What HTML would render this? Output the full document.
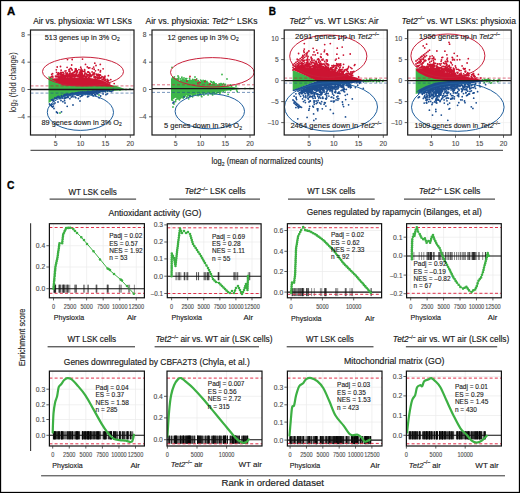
<!DOCTYPE html><html><head><meta charset="utf-8"><style>html,body{margin:0;padding:0;background:#fff;width:520px;height:493px;overflow:hidden}svg{display:block}</style></head><body><svg width="520" height="493" viewBox="0 0 520 493" font-family='"Liberation Sans", sans-serif'>
<rect width="520" height="493" fill="#fff"/>
<clipPath id="c30"><rect x="30.5" y="30" width="103.5" height="105"/></clipPath>
<line x1="55.60" y1="30.00" x2="55.60" y2="135.00" stroke="#ececec" stroke-width="0.6" />
<line x1="80.50" y1="30.00" x2="80.50" y2="135.00" stroke="#ececec" stroke-width="0.6" />
<line x1="105.40" y1="30.00" x2="105.40" y2="135.00" stroke="#ececec" stroke-width="0.6" />
<line x1="130.30" y1="30.00" x2="130.30" y2="135.00" stroke="#ececec" stroke-width="0.6" />
<line x1="30.50" y1="34.86" x2="134.00" y2="34.86" stroke="#ececec" stroke-width="0.6" />
<line x1="30.50" y1="62.18" x2="134.00" y2="62.18" stroke="#ececec" stroke-width="0.6" />
<line x1="30.50" y1="89.50" x2="134.00" y2="89.50" stroke="#ececec" stroke-width="0.6" />
<line x1="30.50" y1="116.82" x2="134.00" y2="116.82" stroke="#ececec" stroke-width="0.6" />
<g clip-path="url(#c30)">
<polygon points="48.5,76.0 63.0,84.5 115.0,85.5 125.0,89.0 125.0,90.0 115.0,90.8 100.0,92.2 80.0,93.8 65.0,96.0 55.0,99.0 48.5,103.0" fill="#3db54a"/>
<polygon points="52.0,78.5 60.0,78.0 75.0,77.5 90.0,78.0 100.0,79.5 107.0,82.5 113.0,86.0 116.0,86.8 63.0,85.5 52.0,79.5" fill="#cc1432"/>
<path d="M73.6 76.6h0M85.6 77.2h0M81.0 76.0h0M60.0 75.7h0M58.0 76.1h0M60.9 77.2h0M77.0 72.5h0M64.6 76.7h0M84.6 69.6h0M82.6 75.9h0M108.1 82.5h0M96.7 77.6h0M65.7 77.0h0M73.0 72.7h0M67.6 75.0h0M85.1 76.1h0M81.4 77.0h0M60.1 76.9h0M87.0 75.9h0M73.2 74.8h0M78.0 76.2h0M92.7 74.8h0M70.5 74.9h0M80.6 71.8h0M89.3 76.6h0M108.8 82.7h0M76.8 73.4h0M66.1 75.5h0M58.2 74.7h0M91.1 75.4h0M97.9 77.7h0M87.6 75.1h0M82.7 75.7h0M95.4 70.8h0M78.7 74.3h0M60.2 74.3h0M85.5 64.4h0M94.3 77.3h0M75.7 74.2h0M56.2 76.1h0M67.0 76.9h0M60.1 73.7h0M64.9 76.6h0M75.9 71.7h0M61.8 75.9h0M81.5 71.6h0M94.2 72.9h0M71.9 75.7h0M74.8 71.4h0M105.4 80.9h0M67.4 76.6h0M70.0 75.4h0M83.1 76.5h0M52.7 76.5h0M75.2 74.8h0M104.9 78.0h0M80.2 74.7h0M86.8 77.2h0M99.7 75.0h0M97.8 74.5h0M75.9 75.7h0M63.3 74.8h0M60.3 77.3h0M68.9 76.7h0M74.2 76.9h0M50.6 77.5h0M63.2 76.2h0M56.6 72.3h0M84.1 76.9h0M70.8 76.0h0M75.0 76.7h0M96.0 65.5h0M78.5 75.4h0M62.1 77.1h0M74.2 76.2h0M94.7 77.8h0M56.3 69.8h0M80.7 76.8h0M81.3 77.1h0M80.7 67.2h0M97.0 75.5h0M71.2 75.9h0M66.9 73.4h0M80.9 73.3h0M73.8 76.4h0M93.7 67.1h0M96.3 74.2h0M94.1 74.6h0M69.7 75.3h0M74.7 76.9h0M56.9 76.8h0M71.1 74.1h0M105.3 79.7h0M103.1 68.8h0M105.1 80.0h0M69.5 76.5h0M68.4 76.6h0M84.5 71.3h0M95.5 76.6h0M85.7 73.2h0M62.1 74.6h0M100.6 75.3h0M90.3 75.9h0M67.5 73.2h0M73.9 72.8h0M107.3 80.9h0M76.2 69.4h0M89.0 77.0h0M64.8 76.9h0M100.2 74.8h0M65.8 72.8h0M108.8 80.3h0M74.5 74.9h0M65.0 77.3h0M107.2 79.4h0M80.6 70.1h0M77.3 71.7h0M94.6 77.6h0M70.8 76.2h0M70.3 74.9h0M71.1 75.7h0M65.0 71.1h0M74.6 75.4h0M82.8 71.2h0M76.9 70.6h0M79.7 75.2h0M80.5 77.1h0M77.6 76.6h0M52.6 73.7h0M67.2 75.6h0M89.1 75.4h0M73.7 75.1h0M81.7 73.2h0M63.5 75.2h0M70.6 76.3h0M91.5 75.9h0M82.0 73.5h0M100.8 77.8h0M84.0 75.5h0M80.1 74.1h0M78.0 75.1h0M78.9 69.7h0M87.8 72.0h0M103.6 79.8h0M81.9 69.8h0M95.4 77.9h0M64.4 75.8h0M61.2 76.7h0M61.2 74.6h0M92.1 71.9h0M66.3 74.0h0M86.1 77.0h0M98.4 69.8h0M69.4 69.3h0M76.1 75.3h0M110.8 79.6h0M66.6 75.8h0M80.2 76.1h0M68.3 76.2h0M88.9 77.4h0M81.7 75.7h0M55.6 76.7h0M84.5 75.4h0M60.5 66.5h0M92.4 68.6h0M63.4 76.6h0M58.2 73.7h0M71.5 76.8h0M76.9 70.8h0M94.1 77.3h0M66.0 70.8h0M82.3 74.1h0M62.4 77.3h0M87.3 76.0h0M61.1 70.2h0M84.9 73.1h0M62.0 72.4h0M60.7 72.3h0M78.0 76.0h0M81.7 70.4h0M71.4 76.8h0M80.7 76.5h0M63.7 76.9h0M59.3 76.9h0M73.1 76.1h0M90.8 76.7h0M79.7 76.6h0M74.4 77.0h0M70.7 77.1h0M89.5 75.4h0M68.0 75.6h0M102.9 79.9h0M94.1 76.6h0M79.5 72.5h0M76.0 75.2h0M87.3 66.9h0M74.3 72.4h0M88.2 74.8h0M76.4 75.9h0M59.7 77.2h0M61.0 74.0h0M70.9 76.7h0M62.0 72.6h0M97.5 75.7h0M72.0 76.4h0M72.4 75.5h0M66.4 75.8h0M71.3 68.6h0M107.5 80.2h0M70.5 68.4h0M73.0 75.9h0M51.4 76.7h0M78.8 75.3h0M68.6 75.4h0M52.9 77.1h0M62.4 76.1h0M58.5 77.5h0M72.8 76.4h0M82.9 75.3h0M90.3 74.8h0M88.6 72.0h0M75.9 76.0h0M109.7 83.1h0M89.0 74.8h0M58.7 72.9h0M99.1 76.3h0M89.5 73.1h0M65.5 75.4h0M79.8 72.5h0M93.3 73.4h0M82.9 71.5h0M87.1 74.3h0M69.9 77.1h0M65.1 76.2h0M63.4 72.7h0M81.9 74.7h0M84.6 74.4h0M79.3 77.1h0M92.9 74.3h0M79.8 75.2h0M86.0 77.2h0M89.6 76.7h0M61.3 76.7h0M89.3 76.9h0M89.8 67.8h0M79.4 75.9h0M78.9 74.1h0M91.2 75.2h0M85.3 77.1h0M65.9 76.5h0M90.0 76.6h0M82.2 77.2h0M60.2 76.7h0M86.6 74.3h0M86.7 76.5h0M80.3 75.6h0M78.5 76.8h0M99.2 78.3h0M108.4 75.7h0M55.5 76.1h0M94.2 69.2h0M77.9 76.3h0M69.0 69.6h0M69.0 74.9h0M65.6 75.4h0M104.8 80.7h0M94.2 76.3h0M98.7 75.6h0M69.9 71.2h0M79.2 77.1h0M52.5 76.1h0M77.9 76.2h0M65.5 76.2h0M73.3 72.3h0M51.7 74.3h0M95.4 78.0h0M102.1 76.6h0M99.9 78.1h0M75.3 75.7h0M114.2 83.6h0M74.9 75.6h0M71.7 77.0h0M63.2 72.7h0M72.1 70.0h0M70.7 76.3h0M80.1 76.6h0M75.3 68.9h0M98.5 74.4h0M84.8 71.0h0M103.5 78.4h0M88.8 77.3h0M89.4 75.9h0M90.4 74.9h0M72.2 77.0h0M102.1 79.5h0M78.7 76.0h0M72.6 73.6h0M108.1 81.9h0M85.9 76.4h0M81.8 75.9h0M66.9 76.8h0M68.9 71.1h0M79.6 76.5h0M100.3 64.4h0M77.9 76.7h0M68.2 77.0h0M74.2 76.8h0M70.3 76.4h0M82.3 71.6h0M90.3 76.2h0M76.7 75.1h0M75.4 75.9h0M60.3 76.6h0M106.8 81.5h0M79.8 74.6h0M97.0 77.9h0M71.6 76.4h0M76.2 75.5h0M105.0 76.2h0M97.7 78.6h0M57.4 74.4h0M99.4 77.2h0M83.0 77.3h0M75.9 70.2h0M94.5 73.2h0M107.4 81.5h0M63.7 76.9h0M80.5 74.2h0M103.6 77.2h0M85.5 73.6h0" stroke="#cc1432" stroke-width="1.8" stroke-linecap="round" fill="none"/>
<path d="M74.8 71.4h0M57.2 67.0h0M67.5 59.6h0M81.6 74.7h0M63.0 75.4h0M81.2 68.8h0M62.2 76.9h0M77.1 70.9h0M72.6 75.3h0M79.8 77.1h0M70.0 72.8h0M100.3 71.9h0M93.7 73.5h0M67.6 75.3h0M100.5 70.7h0M70.1 77.0h0M76.2 69.2h0M73.6 75.0h0M82.5 59.1h0M67.3 77.0h0M71.1 73.3h0M83.1 75.7h0M88.5 68.0h0M76.4 75.4h0M101.7 77.1h0M89.7 75.7h0M67.1 67.3h0M76.1 75.6h0M67.2 73.5h0M63.9 73.9h0M63.7 77.0h0M58.9 74.1h0M94.8 63.2h0M97.5 75.8h0M85.9 77.1h0M82.3 73.9h0M72.2 74.3h0M64.9 77.3h0M69.2 74.2h0M99.9 78.1h0M101.0 77.8h0M71.7 65.0h0M89.9 73.5h0M58.1 73.1h0M72.2 59.5h0" stroke="#cc1432" stroke-width="1.8" stroke-linecap="round" fill="none"/>
<path d="M69.8 94.3h0M101.7 90.5h0M78.9 94.4h0M93.4 91.2h0M58.4 96.5h0M103.6 90.6h0M92.4 94.1h0M76.3 93.1h0M107.5 91.1h0M73.1 94.8h0M75.4 93.3h0M52.8 100.5h0M103.3 91.5h0M105.9 90.1h0M71.8 94.2h0M107.4 93.8h0M78.1 92.8h0M79.6 93.1h0M104.4 90.4h0M95.4 92.6h0M96.6 92.7h0M86.1 92.2h0M75.5 93.4h0M94.3 91.2h0M70.1 95.4h0M72.5 93.4h0M58.3 97.4h0M75.8 97.7h0M100.6 96.0h0M73.2 93.3h0M64.0 95.6h0M90.6 92.1h0M71.9 94.1h0M86.7 93.1h0M92.5 93.5h0M88.6 91.7h0M97.7 91.2h0M84.5 92.4h0M92.0 91.5h0M72.5 93.7h0M67.7 96.7h0M85.0 92.3h0M78.4 98.5h0M82.3 92.3h0M95.8 92.3h0M113.2 89.5h0M81.2 94.2h0M97.7 93.9h0M59.1 96.6h0M65.6 94.6h0M109.6 90.8h0M104.6 90.8h0M99.4 91.4h0M73.0 95.1h0M106.2 90.2h0M85.7 93.0h0M71.1 94.1h0M67.0 94.4h0M72.8 94.4h0M88.0 91.8h0M54.8 98.0h0M89.2 91.7h0M75.2 93.2h0M95.0 92.0h0M61.4 95.6h0M78.4 93.4h0M87.5 91.7h0M68.3 95.4h0M78.9 92.8h0M75.0 96.8h0M75.2 93.9h0M77.0 93.3h0M99.3 97.8h0M77.2 92.9h0M91.5 91.6h0M53.5 101.2h0M79.4 94.4h0M78.8 95.1h0M80.7 92.4h0M55.5 98.3h0M87.5 94.6h0M63.5 96.1h0M77.5 93.4h0M67.3 94.5h0M82.8 95.2h0M64.9 95.3h0M95.5 95.2h0M70.1 93.8h0M105.9 94.7h0M81.4 92.2h0M104.2 90.8h0M102.3 91.6h0M96.7 91.1h0M94.5 91.4h0M78.7 94.7h0M97.0 91.1h0M71.1 94.1h0M82.7 92.6h0M65.8 94.6h0M91.3 94.1h0M59.2 97.2h0M93.0 91.2h0M97.6 91.0h0M85.8 92.7h0M87.0 92.1h0M79.3 93.4h0M79.5 93.6h0M80.2 92.9h0M56.9 98.0h0M81.7 92.4h0M93.3 93.0h0M80.6 92.4h0M81.1 92.3h0M66.2 94.9h0M63.7 95.5h0M82.4 92.1h0M87.3 91.7h0M91.8 93.1h0M82.5 92.1h0M82.2 92.6h0M106.7 90.2h0M98.8 97.6h0M91.7 93.4h0M69.9 98.7h0M81.8 96.0h0M103.3 90.5h0M94.6 94.4h0M61.6 96.0h0M92.9 91.4h0M101.6 90.8h0M96.2 91.1h0M82.1 95.2h0M70.6 94.0h0M82.3 92.5h0M58.7 96.6h0M68.1 97.4h0M89.2 94.3h0M68.6 95.8h0M65.3 95.3h0M87.3 92.2h0M99.9 91.6h0M85.1 94.5h0M64.6 100.7h0M87.1 92.3h0M95.1 91.4h0M113.0 90.5h0M77.1 94.4h0M80.0 92.4h0M92.3 91.3h0M96.4 91.3h0M87.5 96.8h0M85.3 93.1h0M75.3 92.9h0M58.3 96.6h0M86.5 92.4h0M82.5 94.8h0M66.4 94.5h0M88.1 91.6h0M52.3 99.6h0M64.7 95.0h0M71.4 94.6h0M85.4 92.1h0M86.8 92.5h0M66.6 97.6h0M72.3 93.5h0M64.0 96.0h0M99.8 92.5h0M78.6 92.8h0M54.8 98.8h0M84.4 92.4h0M87.7 92.3h0M105.3 91.8h0M72.5 96.2h0M59.5 97.0h0M78.8 92.7h0M60.9 97.5h0M55.0 98.4h0M105.6 90.3h0M70.2 94.8h0M82.3 93.3h0M96.0 91.2h0M75.1 93.4h0M59.9 98.7h0M94.3 92.6h0M53.6 100.6h0M92.3 92.0h0M92.2 92.0h0M71.5 93.6h0M71.8 93.5h0M76.2 94.5h0M89.9 93.7h0M90.7 91.7h0M84.0 92.6h0M94.6 92.0h0M73.3 94.5h0M108.5 90.1h0M100.4 90.6h0M73.0 93.6h0M92.3 94.8h0M92.4 91.7h0M100.4 91.1h0M72.1 96.3h0M87.1 93.1h0M88.6 96.3h0M81.0 94.4h0M90.0 93.8h0M79.9 93.8h0M84.7 92.3h0M70.8 94.8h0M62.6 98.1h0M67.2 94.1h0M64.8 97.8h0M76.5 92.9h0M57.7 96.7h0M89.8 92.7h0M90.0 93.1h0M61.6 96.5h0M77.2 94.7h0M96.4 93.7h0M61.6 97.9h0M103.1 93.9h0M64.8 94.8h0M65.1 94.4h0M98.2 92.8h0M87.3 93.8h0M87.1 92.1h0M64.3 94.7h0M93.0 91.4h0M75.5 93.5h0M56.5 97.3h0M74.0 94.7h0M77.4 93.1h0M108.4 90.7h0M98.4 91.9h0M57.9 97.2h0M79.8 94.1h0M76.6 94.2h0M83.4 92.2h0M99.1 90.8h0M96.4 91.1h0M51.6 99.8h0M93.2 95.9h0M53.0 99.5h0M81.8 94.1h0M69.4 94.6h0M76.6 94.9h0M73.1 96.8h0M74.1 93.4h0M90.1 92.3h0M65.0 95.7h0M62.8 97.0h0M90.0 93.3h0M87.0 92.2h0M78.6 93.0h0M101.2 90.6h0M101.0 90.5h0M70.5 94.0h0M102.0 91.3h0M77.8 95.2h0M71.8 94.2h0M83.2 93.7h0M92.7 92.5h0M76.7 93.2h0M67.8 96.3h0M88.5 93.2h0M68.6 94.6h0M93.8 92.2h0M66.0 95.0h0M100.8 90.9h0M69.8 94.1h0M90.3 93.7h0M67.8 94.2h0M72.5 93.8h0M82.9 92.2h0M75.9 93.1h0M110.0 91.3h0M64.4 98.7h0M64.4 95.2h0M111.5 91.5h0M91.7 92.0h0M70.0 94.9h0M64.8 94.8h0M78.1 92.5h0M78.5 94.4h0M89.9 92.3h0M87.2 92.4h0M67.0 95.3h0M78.7 94.1h0M102.6 91.1h0M84.8 93.5h0M79.3 92.6h0M91.2 94.0h0M93.8 92.6h0M98.5 92.1h0M87.6 92.4h0M75.3 94.1h0M64.1 95.3h0M94.3 92.6h0M87.1 92.0h0M79.4 93.0h0" stroke="#1d4f91" stroke-width="1.8" stroke-linecap="round" fill="none"/>
<path d="M65.4 98.0h0M67.2 106.3h0M53.9 103.9h0M71.2 97.1h0M61.5 111.8h0M50.5 104.9h0M53.4 106.1h0M80.3 96.7h0M52.1 104.2h0M62.9 101.7h0" stroke="#1d4f91" stroke-width="1.8" stroke-linecap="round" fill="none"/>
<path d="M49.5 104.0h0M50.5 105.0h0M51.5 106.0h0M52.5 107.0h0M54.0 108.5h0M57.5 113.0h0M56.5 112.0h0M65.0 103.0h0M73.0 105.0h0M80.0 101.0h0M55.0 103.0h0M58.0 102.0h0M61.0 100.5h0" stroke="#1d4f91" stroke-width="1.8" stroke-linecap="round" fill="none"/>
<path d="M60.0 113.0h0M99.0 95.0h0M120.0 90.0h0M126.0 89.5h0M130.0 89.0h0" stroke="#3db54a" stroke-width="1.8" stroke-linecap="round" fill="none"/>
<line x1="30.50" y1="85.90" x2="134.00" y2="85.90" stroke="#cc1432" stroke-width="1" stroke-dasharray="3,2" stroke-opacity="0.6"/>
<line x1="30.50" y1="93.10" x2="134.00" y2="93.10" stroke="#1d4f91" stroke-width="1" stroke-dasharray="3,2" stroke-opacity="0.6"/>
<line x1="30.50" y1="89.50" x2="134.00" y2="89.50" stroke="#1a1a1a" stroke-width="1.3" />
<ellipse cx="83" cy="71.6" rx="40.5" ry="14.5" fill="none" stroke="#c8203a" stroke-width="1"/>
<ellipse cx="80.4" cy="112.3" rx="33.1" ry="18.1" fill="none" stroke="#21609e" stroke-width="1"/>
</g>
<rect x="30.5" y="30" width="103.5" height="105" fill="none" stroke="#1a1a1a" stroke-width="1.2"/>
<line x1="27.50" y1="34.86" x2="30.50" y2="34.86" stroke="#333" stroke-width="0.8" />
<text x="25.00" y="37.16" font-size="6.6" fill="#4d4d4d" stroke="#4d4d4d" stroke-width="0.119" text-anchor="end" >8</text>
<line x1="27.50" y1="62.18" x2="30.50" y2="62.18" stroke="#333" stroke-width="0.8" />
<text x="25.00" y="64.48" font-size="6.6" fill="#4d4d4d" stroke="#4d4d4d" stroke-width="0.119" text-anchor="end" >4</text>
<line x1="27.50" y1="89.50" x2="30.50" y2="89.50" stroke="#333" stroke-width="0.8" />
<text x="25.00" y="91.80" font-size="6.6" fill="#4d4d4d" stroke="#4d4d4d" stroke-width="0.119" text-anchor="end" >0</text>
<line x1="27.50" y1="116.82" x2="30.50" y2="116.82" stroke="#333" stroke-width="0.8" />
<text x="25.00" y="119.12" font-size="6.6" fill="#4d4d4d" stroke="#4d4d4d" stroke-width="0.119" text-anchor="end" >&#8211;4</text>
<line x1="55.60" y1="135.00" x2="55.60" y2="137.80" stroke="#333" stroke-width="0.8" />
<text x="55.60" y="146.30" font-size="6.8" fill="#4d4d4d" stroke="#4d4d4d" stroke-width="0.122" text-anchor="middle" >5</text>
<line x1="80.50" y1="135.00" x2="80.50" y2="137.80" stroke="#333" stroke-width="0.8" />
<text x="80.50" y="146.30" font-size="6.8" fill="#4d4d4d" stroke="#4d4d4d" stroke-width="0.122" text-anchor="middle" >10</text>
<line x1="105.40" y1="135.00" x2="105.40" y2="137.80" stroke="#333" stroke-width="0.8" />
<text x="105.40" y="146.30" font-size="6.8" fill="#4d4d4d" stroke="#4d4d4d" stroke-width="0.122" text-anchor="middle" >15</text>
<line x1="130.30" y1="135.00" x2="130.30" y2="137.80" stroke="#333" stroke-width="0.8" />
<text x="130.30" y="146.30" font-size="6.8" fill="#4d4d4d" stroke="#4d4d4d" stroke-width="0.122" text-anchor="middle" >20</text>
<text x="44.80" y="39.70" font-size="7.3" fill="#1a1a1a" stroke="#1a1a1a" stroke-width="0.131" >513 genes up in 3% O<tspan dy="1.6" font-size="5">2</tspan></text>
<text x="41.50" y="124.60" font-size="7.3" fill="#1a1a1a" stroke="#1a1a1a" stroke-width="0.131" >89 genes down in 3% O<tspan dy="1.6" font-size="5">2</tspan></text>
<text x="33.20" y="24.10" font-size="8.2" fill="#1a1a1a" stroke="#1a1a1a" stroke-width="0.148" textLength="98.60" lengthAdjust="spacingAndGlyphs" >Air vs. physioxia: WT LSKs</text>
<clipPath id="c152"><rect x="152" y="30" width="102.30000000000001" height="105"/></clipPath>
<line x1="175.75" y1="30.00" x2="175.75" y2="135.00" stroke="#ececec" stroke-width="0.6" />
<line x1="200.50" y1="30.00" x2="200.50" y2="135.00" stroke="#ececec" stroke-width="0.6" />
<line x1="225.25" y1="30.00" x2="225.25" y2="135.00" stroke="#ececec" stroke-width="0.6" />
<line x1="250.00" y1="30.00" x2="250.00" y2="135.00" stroke="#ececec" stroke-width="0.6" />
<line x1="152.00" y1="34.86" x2="254.30" y2="34.86" stroke="#ececec" stroke-width="0.6" />
<line x1="152.00" y1="62.18" x2="254.30" y2="62.18" stroke="#ececec" stroke-width="0.6" />
<line x1="152.00" y1="89.50" x2="254.30" y2="89.50" stroke="#ececec" stroke-width="0.6" />
<line x1="152.00" y1="116.82" x2="254.30" y2="116.82" stroke="#ececec" stroke-width="0.6" />
<g clip-path="url(#c152)">
<polygon points="171.0,78.5 176.0,80.0 185.0,81.5 200.0,82.5 215.0,84.0 230.0,86.5 241.0,88.3 241.0,89.0 220.0,91.5 197.0,93.8 182.0,96.0 175.0,98.0 171.0,101.0" fill="#3db54a"/>
<path d="M197.0 81.4h0M214.5 83.3h0M192.7 79.4h0M185.2 80.5h0M192.0 80.7h0M181.9 77.2h0M190.5 81.8h0M187.5 81.2h0M174.6 79.1h0M193.1 81.0h0M190.4 81.6h0M185.7 80.3h0M224.9 85.0h0M185.6 80.1h0M192.0 81.7h0M182.2 79.7h0M213.1 82.9h0M195.1 81.4h0M185.8 78.6h0M190.5 80.9h0M213.8 82.4h0M195.1 81.9h0M198.6 82.3h0M214.9 83.6h0M216.2 83.9h0M191.3 81.7h0M193.3 81.9h0M172.6 77.8h0M187.8 81.4h0M188.5 81.1h0M193.4 81.1h0M204.0 82.5h0M223.6 83.7h0M178.4 78.8h0M221.1 83.6h0M182.6 79.5h0M202.7 82.8h0M174.3 76.8h0M203.9 82.6h0M180.9 80.7h0M186.1 80.2h0M190.2 81.7h0M220.9 83.6h0M183.7 79.3h0M201.4 81.3h0M204.5 80.9h0M211.6 82.0h0M184.8 80.4h0M197.8 81.1h0M193.8 80.2h0M198.9 82.2h0M186.1 81.4h0M196.1 82.2h0M195.0 82.0h0M196.1 81.6h0M198.2 80.6h0M173.5 77.6h0M195.1 81.4h0M204.4 81.3h0M191.3 81.4h0M227.8 86.1h0M202.9 81.9h0M176.2 79.2h0M205.3 80.6h0M189.6 78.2h0M196.9 81.7h0M220.3 84.8h0M207.3 82.3h0M189.9 80.0h0M191.0 81.3h0M197.6 81.0h0M185.3 81.0h0M193.2 81.3h0M214.4 83.6h0M214.4 83.5h0M196.6 82.0h0M196.7 79.0h0M203.8 81.5h0M189.6 81.5h0M188.4 80.9h0M202.8 81.4h0M177.2 79.0h0M219.2 84.0h0M177.9 80.0h0M173.4 79.0h0M222.7 84.4h0M204.0 81.5h0M221.5 84.2h0M201.9 81.8h0M206.1 82.3h0M205.2 82.8h0M204.5 82.4h0M210.0 83.4h0M184.2 81.3h0M210.7 81.4h0M203.9 82.5h0M214.1 82.5h0M199.2 82.2h0M188.5 81.2h0M189.1 81.3h0M203.1 80.4h0M178.3 79.6h0M177.2 80.1h0M213.2 83.0h0M222.4 84.7h0M174.7 79.2h0M200.6 80.1h0M231.5 86.2h0M192.8 81.9h0M203.3 82.6h0M183.1 81.2h0M173.1 78.1h0M181.8 77.9h0M180.2 78.9h0M182.2 81.0h0M207.4 83.0h0M208.2 83.1h0M178.0 79.0h0M207.0 81.5h0M208.0 83.2h0M202.5 81.6h0M194.8 79.7h0M186.8 78.6h0M207.2 83.2h0M174.8 78.7h0M213.7 83.8h0M188.9 80.6h0M183.7 79.5h0M195.8 82.2h0M191.0 81.1h0M193.8 81.1h0M182.8 79.7h0M190.8 81.0h0M202.5 82.3h0M191.7 80.6h0M225.5 84.4h0M199.5 82.2h0M178.7 77.2h0M206.4 81.6h0M189.7 81.0h0M230.7 85.0h0M201.1 82.3h0M193.4 80.1h0M191.4 80.9h0M201.1 80.6h0M213.0 83.5h0M172.3 78.6h0M193.2 81.3h0M213.6 81.9h0M177.4 78.6h0" stroke="#3db54a" stroke-width="1.8" stroke-linecap="round" fill="none"/>
<path d="M212.1 93.9h0M197.9 94.0h0M215.2 93.3h0M203.9 95.1h0M188.0 95.2h0M197.0 95.1h0M182.5 97.0h0M223.2 91.3h0M199.7 94.4h0M193.0 94.6h0M184.5 96.8h0M210.6 92.9h0M178.4 98.3h0M209.3 92.8h0M198.3 95.5h0M218.2 92.3h0M193.4 95.0h0M182.1 96.2h0M181.8 97.0h0M188.6 95.7h0M190.3 95.4h0M180.6 96.4h0M236.6 89.9h0M179.1 97.6h0M210.3 92.6h0M199.2 93.9h0M195.4 94.1h0M175.6 101.6h0M216.5 92.4h0M197.7 94.0h0M209.8 93.0h0M225.1 92.1h0M212.6 94.9h0M184.4 95.7h0M182.5 96.1h0M178.2 97.1h0M197.2 95.4h0M192.6 96.8h0M220.7 91.5h0M199.2 94.0h0M179.6 99.2h0M184.5 96.3h0M201.4 95.9h0M203.0 93.6h0M192.2 94.6h0M228.1 94.4h0M183.2 95.9h0M184.5 96.0h0M219.9 93.4h0M214.0 92.1h0M210.3 93.5h0M201.8 96.7h0M176.9 97.6h0M208.1 94.9h0M203.4 93.4h0M198.9 94.7h0M179.1 97.1h0M184.5 95.7h0M193.7 94.4h0M183.9 95.9h0M203.5 93.2h0M205.8 93.1h0M175.7 99.9h0M183.2 98.0h0M216.5 93.6h0M180.3 97.0h0M178.8 99.0h0M214.4 92.8h0M192.4 94.8h0M212.9 92.7h0M200.8 93.5h0M183.2 95.9h0M205.6 93.6h0M180.5 98.1h0M184.9 96.0h0M180.9 96.6h0M214.2 92.4h0M181.3 96.7h0M186.9 97.2h0M179.4 99.8h0M176.9 99.2h0M202.9 93.4h0M193.5 94.6h0M184.6 95.8h0M188.7 98.8h0M237.2 91.5h0M178.8 97.2h0M219.3 91.6h0M206.3 93.1h0M230.6 90.3h0M211.7 92.7h0M180.3 96.5h0M213.6 92.7h0M181.9 96.5h0M220.9 91.6h0M197.9 93.8h0M181.7 97.3h0M205.4 93.1h0M178.0 97.2h0M199.7 94.1h0M185.2 95.7h0M199.9 94.5h0M212.1 93.0h0M182.5 96.0h0M206.7 93.2h0M206.1 92.9h0M212.0 92.6h0M214.4 93.7h0M194.2 94.2h0M220.7 91.9h0M217.0 92.0h0M182.0 97.4h0M188.8 95.1h0M189.0 95.7h0M172.7 100.3h0M192.1 95.1h0M179.7 97.7h0M212.4 93.9h0M187.0 96.3h0M189.4 96.0h0" stroke="#3db54a" stroke-width="1.8" stroke-linecap="round" fill="none"/>
<path d="M172.0 67.5h0M222.0 74.5h0M227.0 79.0h0M195.0 77.0h0M184.0 78.0h0M178.0 76.0h0M245.0 88.5h0M236.0 86.0h0M250.0 88.4h0M174.0 104.0h0M173.0 107.0h0M190.0 96.5h0" stroke="#3db54a" stroke-width="1.8" stroke-linecap="round" fill="none"/>
<path d="M190.0 76.5h0M196.0 80.0h0M200.0 82.5h0M205.0 81.5h0M198.0 83.0h0M210.0 84.0h0M187.0 81.0h0" stroke="#cc1432" stroke-width="1.8" stroke-linecap="round" fill="none"/>
<path d="M173.0 103.0h0M174.0 102.0h0M190.0 96.0h0M200.0 94.5h0M184.0 97.0h0" stroke="#1d4f91" stroke-width="1.8" stroke-linecap="round" fill="none"/>
<line x1="152.00" y1="84.80" x2="254.30" y2="84.80" stroke="#cc1432" stroke-width="1" stroke-dasharray="3,2" stroke-opacity="0.6"/>
<line x1="152.00" y1="92.40" x2="254.30" y2="92.40" stroke="#1d4f91" stroke-width="1" stroke-dasharray="3,2" stroke-opacity="0.6"/>
<line x1="152.00" y1="88.60" x2="254.30" y2="88.60" stroke="#1a1a1a" stroke-width="1.3" />
<ellipse cx="212.3" cy="72.3" rx="41.8" ry="14.7" fill="none" stroke="#c8203a" stroke-width="1"/>
<ellipse cx="209.8" cy="111.3" rx="34.7" ry="17.5" fill="none" stroke="#21609e" stroke-width="1"/>
</g>
<rect x="152" y="30" width="102.30000000000001" height="105" fill="none" stroke="#1a1a1a" stroke-width="1.2"/>
<line x1="149.00" y1="34.86" x2="152.00" y2="34.86" stroke="#333" stroke-width="0.8" />
<text x="146.50" y="37.16" font-size="6.6" fill="#4d4d4d" stroke="#4d4d4d" stroke-width="0.119" text-anchor="end" >8</text>
<line x1="149.00" y1="62.18" x2="152.00" y2="62.18" stroke="#333" stroke-width="0.8" />
<text x="146.50" y="64.48" font-size="6.6" fill="#4d4d4d" stroke="#4d4d4d" stroke-width="0.119" text-anchor="end" >4</text>
<line x1="149.00" y1="89.50" x2="152.00" y2="89.50" stroke="#333" stroke-width="0.8" />
<text x="146.50" y="91.80" font-size="6.6" fill="#4d4d4d" stroke="#4d4d4d" stroke-width="0.119" text-anchor="end" >0</text>
<line x1="149.00" y1="116.82" x2="152.00" y2="116.82" stroke="#333" stroke-width="0.8" />
<text x="146.50" y="119.12" font-size="6.6" fill="#4d4d4d" stroke="#4d4d4d" stroke-width="0.119" text-anchor="end" >&#8211;4</text>
<line x1="175.75" y1="135.00" x2="175.75" y2="137.80" stroke="#333" stroke-width="0.8" />
<text x="175.75" y="146.30" font-size="6.8" fill="#4d4d4d" stroke="#4d4d4d" stroke-width="0.122" text-anchor="middle" >5</text>
<line x1="200.50" y1="135.00" x2="200.50" y2="137.80" stroke="#333" stroke-width="0.8" />
<text x="200.50" y="146.30" font-size="6.8" fill="#4d4d4d" stroke="#4d4d4d" stroke-width="0.122" text-anchor="middle" >10</text>
<line x1="225.25" y1="135.00" x2="225.25" y2="137.80" stroke="#333" stroke-width="0.8" />
<text x="225.25" y="146.30" font-size="6.8" fill="#4d4d4d" stroke="#4d4d4d" stroke-width="0.122" text-anchor="middle" >15</text>
<line x1="250.00" y1="135.00" x2="250.00" y2="137.80" stroke="#333" stroke-width="0.8" />
<text x="250.00" y="146.30" font-size="6.8" fill="#4d4d4d" stroke="#4d4d4d" stroke-width="0.122" text-anchor="middle" >20</text>
<text x="167.50" y="39.60" font-size="7.3" fill="#1a1a1a" stroke="#1a1a1a" stroke-width="0.131" textLength="71.20" lengthAdjust="spacingAndGlyphs" >12 genes up in 3% O<tspan dy="1.6" font-size="5">2</tspan></text>
<text x="164.00" y="128.40" font-size="7.3" fill="#1a1a1a" stroke="#1a1a1a" stroke-width="0.131" textLength="78.00" lengthAdjust="spacingAndGlyphs" >5 genes down in 3% O<tspan dy="1.6" font-size="5">2</tspan></text>
<text x="145.50" y="24.10" font-size="8.2" fill="#1a1a1a" stroke="#1a1a1a" stroke-width="0.148" textLength="112.00" lengthAdjust="spacingAndGlyphs" >Air vs. physioxia: <tspan font-style="italic">Tet2</tspan><tspan dy="-3.6" font-size="4.6">&#8211;/&#8211;</tspan><tspan dy="3.6"> LSKs</tspan></text>
<clipPath id="c284"><rect x="284.2" y="30" width="103.0" height="105"/></clipPath>
<line x1="309.05" y1="30.00" x2="309.05" y2="135.00" stroke="#ececec" stroke-width="0.6" />
<line x1="333.80" y1="30.00" x2="333.80" y2="135.00" stroke="#ececec" stroke-width="0.6" />
<line x1="358.55" y1="30.00" x2="358.55" y2="135.00" stroke="#ececec" stroke-width="0.6" />
<line x1="383.30" y1="30.00" x2="383.30" y2="135.00" stroke="#ececec" stroke-width="0.6" />
<line x1="284.20" y1="38.60" x2="387.20" y2="38.60" stroke="#ececec" stroke-width="0.6" />
<line x1="284.20" y1="59.60" x2="387.20" y2="59.60" stroke="#ececec" stroke-width="0.6" />
<line x1="284.20" y1="80.60" x2="387.20" y2="80.60" stroke="#ececec" stroke-width="0.6" />
<line x1="284.20" y1="101.60" x2="387.20" y2="101.60" stroke="#ececec" stroke-width="0.6" />
<line x1="284.20" y1="122.60" x2="387.20" y2="122.60" stroke="#ececec" stroke-width="0.6" />
<g clip-path="url(#c284)">
<polygon points="292.7,69.9 318.0,80.6 292.7,90.5" fill="#3db54a"/>
<polygon points="293.0,68.5 300.0,66.5 310.0,67.5 320.0,68.5 335.0,71.0 350.0,75.5 364.0,80.3 316.0,80.3 313.6,79.3 293.1,69.9" fill="#cc1432"/>
<polygon points="317.0,80.9 366.0,80.9 350.0,83.5 335.0,85.6 320.0,86.5 310.0,88.0 300.0,89.5 293.0,91.3 292.7,90.0" fill="#1d4f91"/>
<path d="M303.3 60.6h0M350.2 73.5h0M323.6 66.8h0M324.5 69.2h0M352.1 75.4h0M310.7 67.2h0M313.8 62.8h0M300.2 66.2h0M331.8 69.8h0M298.5 64.2h0M326.1 67.3h0M332.0 70.2h0M342.1 69.3h0M301.8 66.3h0M322.8 66.9h0M315.0 67.6h0M319.5 68.0h0M326.8 63.7h0M308.9 64.8h0M334.3 70.3h0M339.0 63.9h0M318.9 66.8h0M339.9 70.2h0M319.2 59.9h0M336.0 70.1h0M313.4 66.6h0M320.6 56.7h0M337.6 64.5h0M338.3 66.3h0M302.6 64.6h0M350.7 67.6h0M313.7 66.2h0M328.6 68.6h0M324.3 69.0h0M320.5 66.5h0M299.0 66.3h0M352.4 71.8h0M348.2 71.9h0M337.9 65.4h0M343.3 73.4h0M329.0 69.1h0M330.8 69.3h0M324.7 61.5h0M328.1 69.0h0M323.8 67.4h0M349.8 74.4h0M316.0 65.0h0M307.4 64.5h0M350.5 73.5h0M314.5 66.1h0M324.4 68.7h0M307.6 66.8h0M315.5 66.5h0M315.3 67.2h0M305.3 64.7h0M339.9 69.7h0M325.9 66.3h0M311.6 63.9h0M321.5 66.4h0M327.7 67.9h0M316.1 67.3h0M312.6 65.6h0M318.7 65.7h0M297.5 65.9h0M341.5 72.1h0M325.3 67.4h0M315.2 54.9h0M315.6 63.6h0M309.5 67.2h0M342.2 71.4h0M303.3 65.4h0M320.8 64.6h0M306.7 66.4h0M350.9 71.8h0M309.3 66.2h0M317.7 64.9h0M327.9 64.1h0M338.7 69.9h0M333.8 66.7h0M335.0 69.1h0M336.4 67.7h0M345.9 73.9h0M342.2 73.1h0M335.3 68.5h0M323.0 59.1h0M326.0 67.9h0M336.4 65.2h0M327.5 68.3h0M321.2 66.9h0M333.0 69.6h0M319.0 66.0h0M318.8 67.2h0M336.6 65.8h0M323.0 67.2h0M310.8 66.5h0M308.8 64.8h0M326.4 69.3h0M346.4 73.3h0M340.2 67.1h0M350.8 75.1h0M320.3 61.3h0M297.3 67.1h0M325.7 67.4h0M346.4 70.0h0M324.6 50.1h0M323.7 66.9h0M331.1 68.9h0M317.8 65.6h0M317.6 59.4h0M330.7 68.0h0M306.1 65.7h0M319.4 66.0h0M326.0 63.1h0M351.6 74.0h0M320.8 65.7h0M358.6 77.0h0M324.2 64.1h0M310.2 66.4h0M353.9 71.5h0M323.5 68.7h0M344.1 70.2h0M338.7 58.2h0M343.6 71.9h0M309.4 66.4h0M323.5 67.0h0M311.0 67.0h0M328.5 67.1h0M317.7 53.0h0M328.8 69.8h0M319.7 63.8h0M316.0 64.6h0M295.6 66.7h0M340.1 69.9h0M330.3 69.6h0M323.0 66.6h0M314.4 64.8h0M324.3 51.7h0M326.1 67.9h0M307.5 66.7h0M335.0 70.7h0M306.1 66.6h0M323.9 64.0h0M327.7 64.9h0M303.4 66.8h0M335.6 70.0h0M332.6 69.3h0M310.1 66.6h0M306.1 60.1h0M326.4 68.3h0M321.1 67.2h0M302.7 60.1h0M326.4 59.9h0M320.8 65.7h0M313.7 67.7h0M347.5 69.0h0M316.3 61.3h0M338.4 70.9h0M327.3 60.1h0M322.9 60.0h0M313.5 66.4h0M332.8 69.9h0M316.1 61.9h0M322.4 64.2h0M313.5 67.3h0M317.9 67.7h0M352.7 75.3h0M325.5 69.1h0M324.4 67.8h0M319.4 68.2h0M307.6 62.0h0M317.6 67.4h0M311.2 66.6h0M313.2 67.7h0M330.1 68.9h0M309.4 63.8h0M305.6 66.1h0M339.6 72.0h0M320.9 63.2h0M337.7 71.3h0M317.7 64.4h0M318.5 58.8h0M311.9 58.7h0M323.2 68.3h0M321.2 68.3h0M332.1 69.6h0M344.5 71.2h0M318.2 67.5h0M327.5 69.0h0M342.3 72.8h0M323.5 66.7h0M314.6 63.5h0M318.8 65.2h0M325.8 68.3h0M319.0 68.1h0M310.5 61.8h0M316.5 64.9h0M306.7 64.7h0M318.0 66.2h0M315.6 67.9h0M316.2 67.3h0M307.8 63.5h0M315.1 66.5h0M345.4 69.6h0M343.1 67.5h0M308.1 66.3h0M300.1 63.1h0M330.0 68.9h0M319.8 65.2h0M331.8 69.6h0M340.4 71.3h0M328.4 69.3h0M307.1 59.9h0M333.6 67.0h0M301.4 66.5h0M309.7 66.8h0M315.9 66.6h0M301.2 65.5h0M328.9 69.4h0M339.9 69.9h0M332.7 69.7h0M320.6 65.1h0M317.5 68.3h0M339.6 67.9h0M315.2 67.9h0M341.0 70.0h0M302.0 65.9h0M306.8 62.5h0M312.0 60.3h0M334.4 70.6h0M331.6 68.9h0M334.3 65.6h0M315.0 67.7h0M349.2 73.6h0M347.4 71.2h0M333.8 65.5h0M328.4 68.1h0M302.7 63.2h0M320.3 66.4h0M347.2 74.3h0M335.1 70.9h0M332.0 65.6h0M314.2 65.6h0M352.4 73.2h0M324.8 68.4h0M303.1 65.5h0M319.7 67.8h0M316.1 67.7h0M332.2 67.2h0M313.3 67.0h0M323.6 67.3h0M348.0 73.6h0M315.7 61.6h0M308.6 64.9h0M317.0 63.1h0M325.0 65.0h0M310.1 64.2h0M327.1 67.8h0M335.4 65.8h0M307.1 66.2h0M317.9 67.6h0" stroke="#cc1432" stroke-width="1.8" stroke-linecap="round" fill="none"/>
<path d="M301.3 63.7h0M308.0 56.4h0M317.0 67.1h0M312.4 62.1h0M313.8 66.2h0M302.0 66.6h0M354.9 64.6h0M302.8 55.4h0M351.9 68.6h0M304.1 60.9h0M316.5 66.3h0M320.9 68.6h0M343.6 64.3h0M324.7 44.6h0M325.9 66.9h0M309.7 66.1h0M298.6 53.5h0M336.8 68.4h0M307.5 58.1h0M337.3 48.2h0M306.9 53.4h0M336.2 59.1h0M312.5 65.9h0M335.8 67.8h0M314.0 60.7h0M314.0 51.9h0M309.5 67.1h0M321.9 59.9h0M335.4 60.1h0M342.2 47.1h0M318.8 62.2h0M306.4 63.9h0M322.5 68.2h0M327.7 68.2h0M303.1 66.4h0M316.7 66.3h0M329.5 70.1h0M336.9 54.2h0M333.3 65.7h0M311.0 57.8h0M319.7 63.5h0M312.9 62.6h0M326.6 53.9h0M342.1 71.5h0M311.4 62.4h0M321.8 64.9h0M307.9 66.5h0M312.4 62.2h0M350.2 54.0h0M338.8 39.2h0M348.7 66.4h0M334.8 70.4h0M327.1 61.2h0M311.5 60.0h0M347.4 68.8h0M325.6 66.2h0M313.1 48.3h0M298.6 65.0h0M327.2 64.4h0M302.9 57.1h0M314.1 60.1h0M315.8 61.3h0M321.8 64.3h0M304.4 65.1h0M340.8 65.6h0M304.3 49.1h0M310.0 66.6h0M320.4 66.0h0M318.6 61.1h0M309.1 59.8h0M304.3 60.5h0M322.9 68.2h0M315.5 67.4h0M316.7 50.2h0M321.2 57.4h0M331.5 69.3h0M354.4 65.4h0M303.8 50.9h0M314.9 66.3h0M348.4 67.6h0M332.5 69.3h0M332.6 70.1h0M309.4 63.3h0M297.2 59.2h0M308.6 64.1h0M328.7 65.0h0M340.7 64.0h0M339.3 64.8h0M343.4 55.1h0M306.8 54.9h0M313.0 54.8h0M327.3 54.0h0M304.8 62.8h0M330.3 43.6h0M329.5 69.7h0M323.6 68.1h0M321.1 54.1h0M304.3 43.6h0M327.0 67.0h0M307.8 62.0h0M336.7 63.7h0M304.4 66.7h0M304.2 52.4h0M307.5 60.0h0M311.2 57.2h0M314.5 66.5h0M339.6 65.4h0M327.7 54.9h0M346.9 74.4h0M313.1 66.3h0" stroke="#cc1432" stroke-width="1.8" stroke-linecap="round" fill="none"/>
<path d="M293.0 65.0h0M294.4 63.7h0M295.9 62.5h0M297.4 61.2h0M298.8 59.9h0M300.2 58.6h0M301.7 57.4h0M303.1 56.1h0M304.6 54.8h0M306.1 53.6h0M307.5 52.3h0M308.9 51.0h0M293.0 67.5h0M294.4 66.2h0M295.9 65.0h0M297.4 63.7h0M298.8 62.4h0M300.2 61.1h0M301.7 59.9h0M303.1 58.6h0M304.6 57.3h0M306.1 56.1h0M293.0 70.0h0M294.4 68.7h0M295.9 67.5h0M297.4 66.2h0M298.8 64.9h0M300.2 63.6h0M301.7 62.4h0M303.1 61.1h0M296.0 70.0h0M297.4 68.7h0M298.9 67.5h0M300.4 66.2h0M301.8 64.9h0M303.2 63.6h0" stroke="#cc1432" stroke-width="1.8" stroke-linecap="round" fill="none"/>
<path d="M321.7 94.2h0M338.0 85.3h0M308.9 94.6h0M330.5 87.8h0M320.5 87.1h0M341.3 86.6h0M343.6 88.0h0M303.3 90.5h0M310.3 96.5h0M325.8 86.3h0M308.3 90.0h0M320.2 89.8h0M316.9 88.6h0M295.9 93.8h0M314.8 87.4h0M319.8 102.9h0M300.9 90.0h0M330.0 87.1h0M312.5 90.3h0M312.1 90.9h0M322.9 98.3h0M360.4 82.3h0M324.4 91.8h0M343.6 90.1h0M328.0 89.8h0M315.9 88.4h0M337.6 93.1h0M350.4 87.8h0M313.6 92.9h0M334.0 88.4h0M328.1 87.7h0M323.9 88.2h0M302.2 90.7h0M314.3 104.3h0M320.8 88.2h0M311.4 88.8h0M315.4 87.8h0M296.2 98.3h0M319.6 88.8h0M324.8 87.6h0M308.3 88.5h0M313.5 88.9h0M333.2 88.8h0M350.3 85.0h0M348.4 87.1h0M303.5 89.7h0M325.3 102.8h0M315.7 92.8h0M318.5 94.4h0M302.7 91.6h0M346.1 85.3h0M311.9 87.8h0M308.1 89.5h0M331.9 86.7h0M317.3 87.7h0M326.4 93.7h0M328.8 86.8h0M333.6 98.2h0M326.3 86.4h0M338.6 93.0h0M315.0 87.8h0M309.2 91.1h0M343.8 88.2h0M348.6 84.6h0M314.5 92.6h0M328.8 87.9h0M330.4 87.4h0M301.9 91.2h0M300.9 93.1h0M314.8 89.9h0M326.2 87.3h0M320.0 86.6h0M348.8 86.8h0M359.0 82.6h0M327.0 91.0h0M314.6 87.7h0M307.7 88.9h0M335.7 85.9h0M338.9 87.1h0M323.4 89.7h0M324.1 90.3h0M326.4 87.6h0M334.1 86.8h0M332.3 91.2h0M336.3 86.8h0M336.1 99.9h0M319.6 87.8h0M322.7 97.1h0M306.5 88.6h0M320.5 90.5h0M336.2 87.1h0M359.6 83.3h0M335.0 86.0h0M299.2 90.2h0M302.1 91.8h0M324.1 87.0h0M350.6 85.2h0M307.4 89.1h0M333.8 95.3h0M308.0 88.4h0M336.4 86.5h0M357.7 85.2h0M328.1 87.6h0M338.0 87.5h0M314.4 96.2h0M305.2 93.7h0M302.5 93.1h0M317.4 94.5h0M302.1 92.3h0M317.8 96.4h0M351.3 87.1h0M310.6 89.0h0M312.1 89.9h0M310.9 88.7h0M335.2 89.5h0M313.4 107.1h0M310.3 91.2h0M307.7 95.9h0M343.3 85.6h0M334.7 92.2h0M312.8 89.1h0M321.0 94.9h0M308.0 92.7h0M326.2 88.4h0M325.3 94.3h0M310.1 96.2h0M315.8 92.9h0M342.8 85.3h0M342.8 104.5h0M313.4 87.6h0M305.4 102.6h0M296.6 99.6h0M307.5 93.4h0M304.6 89.5h0M330.6 86.2h0M315.0 96.8h0M332.6 93.9h0M357.0 82.7h0M311.0 93.8h0M331.0 86.0h0M321.8 87.4h0M318.6 87.1h0M298.3 107.8h0M314.1 95.4h0M305.9 91.2h0M306.7 90.6h0M308.8 92.6h0M307.3 93.5h0M321.6 86.9h0M315.5 89.8h0M348.1 85.4h0M310.3 101.0h0M344.5 89.3h0M312.5 88.4h0M312.2 87.9h0M300.7 92.1h0M317.7 89.9h0M315.9 87.2h0M330.9 89.9h0M323.6 89.3h0M331.1 101.2h0M343.7 89.2h0M317.3 88.4h0M318.1 100.5h0M316.8 88.8h0M317.8 87.4h0M363.5 81.8h0M326.7 96.0h0M311.8 91.3h0M316.4 88.1h0M309.6 88.5h0M341.1 90.6h0M347.0 84.1h0M331.3 87.3h0M328.7 89.0h0M314.1 100.9h0M294.1 96.2h0M342.0 87.3h0M325.9 106.1h0M311.0 91.6h0M334.2 87.5h0M332.3 87.7h0M322.8 89.9h0M330.3 87.4h0M327.8 89.0h0M310.6 91.5h0M312.2 96.8h0M320.4 91.3h0M322.6 88.8h0M310.5 88.5h0M349.1 86.5h0M322.7 89.2h0M338.9 86.1h0M308.5 94.8h0M319.9 90.4h0M339.9 93.4h0M343.2 84.6h0M316.6 93.8h0M339.2 85.5h0M307.6 89.5h0M304.9 90.4h0M338.1 88.0h0M319.6 86.9h0M317.2 108.9h0M331.3 88.1h0M320.7 92.5h0M335.2 86.2h0M330.5 87.6h0M322.5 87.4h0M316.2 88.7h0M316.6 87.1h0M309.7 91.3h0M301.9 90.0h0M332.7 87.0h0M314.4 88.4h0M340.4 85.2h0M328.1 93.5h0M309.7 90.1h0M337.4 88.9h0M316.2 87.2h0M319.1 88.4h0M332.3 87.1h0M317.7 90.8h0M338.7 86.7h0M316.8 90.3h0M348.8 84.5h0M355.4 87.6h0M316.3 91.2h0M314.6 87.6h0M335.0 87.4h0M322.8 88.9h0M346.3 89.4h0M299.0 93.2h0M320.0 88.9h0M340.9 86.8h0M320.4 94.9h0M319.0 89.2h0M322.1 93.0h0M330.0 91.0h0M317.4 87.0h0M330.5 88.9h0M335.8 91.1h0M305.8 89.6h0M303.3 95.5h0M304.9 89.1h0M334.8 88.8h0M301.7 93.6h0M332.3 88.3h0M301.7 93.7h0M318.1 90.1h0M363.3 88.3h0M343.5 85.0h0M314.8 90.1h0M295.9 107.6h0M312.5 88.8h0M314.0 88.5h0M342.4 87.6h0M322.1 88.4h0M301.4 90.7h0M343.1 90.6h0M342.2 85.7h0M309.7 88.2h0M323.3 88.1h0M320.0 89.0h0M325.5 87.9h0M338.0 86.0h0M348.2 86.8h0M301.4 90.7h0M323.1 88.3h0M324.6 87.7h0M312.5 93.7h0M313.2 92.2h0M338.1 88.6h0M319.6 96.9h0M319.2 94.6h0M301.9 91.4h0M328.3 86.2h0M342.7 84.8h0M326.1 86.9h0M348.5 86.8h0M338.0 87.8h0M330.1 90.2h0M313.3 88.4h0M340.8 85.4h0M348.0 84.7h0M304.8 89.2h0M336.8 96.8h0M318.0 90.9h0M311.9 96.7h0M330.8 86.5h0M301.9 93.7h0M300.6 96.3h0M313.2 88.5h0M325.4 87.6h0M324.4 86.9h0M347.4 85.4h0M341.0 85.4h0M337.9 100.1h0M317.0 87.1h0M316.6 90.9h0M310.6 90.9h0M304.4 91.2h0M333.3 87.8h0M330.4 86.3h0M340.0 85.4h0M348.6 104.8h0M350.5 86.3h0M313.1 89.2h0M334.6 88.2h0M349.4 84.0h0M320.9 94.0h0M326.2 89.1h0M304.1 89.5h0M312.4 96.1h0M341.3 85.7h0M348.8 83.8h0M326.2 99.1h0M315.2 98.2h0M329.2 86.1h0M314.7 89.6h0M311.5 92.9h0M308.8 94.1h0M313.4 87.8h0M324.3 86.6h0M324.0 92.2h0M326.1 88.5h0M299.8 92.3h0M304.6 92.8h0M306.5 91.8h0M315.5 89.0h0M329.6 86.6h0M308.3 99.0h0M314.7 94.3h0M343.7 86.9h0M307.4 88.8h0M344.2 84.8h0M321.4 89.3h0M305.8 91.0h0M308.1 91.2h0M321.9 88.1h0" stroke="#1d4f91" stroke-width="1.8" stroke-linecap="round" fill="none"/>
<path d="M307.9 93.5h0M308.1 89.6h0M309.3 108.6h0M318.0 108.9h0M297.8 118.8h0M317.5 102.5h0M320.7 98.1h0M309.0 102.0h0M306.2 91.6h0M299.5 94.6h0M318.6 90.2h0M337.7 86.1h0M321.0 89.1h0M321.7 101.7h0M326.8 86.7h0M309.5 97.2h0M348.2 84.2h0M322.6 98.1h0M332.4 89.9h0M332.2 92.0h0M340.3 85.0h0M342.2 89.9h0M314.7 88.2h0M309.5 101.3h0M325.3 87.8h0M312.6 89.1h0M307.9 90.8h0M352.3 98.9h0M317.2 93.8h0M330.4 109.7h0M328.9 96.1h0M307.9 98.1h0M334.4 101.1h0M303.5 101.6h0M312.7 89.4h0M345.3 95.3h0M328.6 87.4h0M333.3 113.4h0M338.8 98.7h0M333.6 101.9h0M321.5 92.1h0M333.1 101.1h0M336.2 89.0h0M344.6 91.8h0M342.8 85.7h0M345.7 99.6h0M309.7 106.3h0M309.1 90.3h0M316.4 89.7h0M317.7 110.7h0M325.6 98.6h0M314.1 102.7h0M331.2 97.3h0M342.4 102.0h0M314.6 88.2h0M324.1 104.3h0M312.4 96.7h0M333.8 101.4h0M296.1 97.2h0M298.0 91.2h0M332.3 91.2h0M322.1 92.5h0M312.3 90.1h0M312.9 106.2h0M322.7 89.8h0M303.3 92.2h0M326.4 92.0h0M324.5 102.7h0M304.9 100.3h0M300.4 106.8h0M307.4 91.6h0M344.2 88.8h0M308.8 110.2h0M322.3 108.8h0M314.2 94.3h0M344.0 91.4h0M349.4 85.7h0M333.4 87.5h0M319.0 86.7h0M307.1 117.4h0M316.3 103.6h0M309.6 92.4h0M303.9 97.0h0M335.6 92.7h0M313.6 113.9h0M337.9 96.2h0M302.6 98.9h0M315.9 118.8h0M313.1 98.4h0M323.2 91.0h0M318.8 98.0h0M339.0 91.9h0M301.5 107.3h0M325.5 94.3h0M316.1 101.0h0M337.7 98.3h0M328.8 86.3h0M312.0 89.2h0M343.6 106.6h0M305.9 97.5h0M320.9 86.9h0M314.2 101.1h0M323.6 89.6h0M329.5 89.4h0M319.6 92.0h0M347.3 94.3h0M331.9 97.1h0M313.8 120.4h0M326.8 97.8h0M310.5 89.7h0M320.9 103.9h0M331.2 90.1h0M305.7 95.9h0M336.7 87.1h0M328.2 87.9h0M311.5 88.3h0M311.1 92.7h0M345.5 116.9h0M307.5 92.1h0M342.6 86.7h0" stroke="#1d4f91" stroke-width="1.8" stroke-linecap="round" fill="none"/>
<path d="M293.0 100.0h0M294.2 101.1h0M295.4 102.2h0M296.6 103.3h0M297.8 104.4h0M299.0 105.5h0M300.2 106.6h0M294.0 103.0h0M295.2 104.1h0M296.4 105.2h0M297.6 106.3h0M298.8 107.4h0" stroke="#1d4f91" stroke-width="1.8" stroke-linecap="round" fill="none"/>
<path d="M369.1 80.3h0M364.4 80.4h0M370.7 80.4h0M383.2 80.4h0M366.5 79.4h0M371.9 79.7h0M376.0 79.8h0M368.9 80.5h0M378.7 80.3h0M374.3 80.0h0M378.6 80.4h0M370.0 79.4h0M373.6 80.4h0M375.9 80.4h0M379.0 80.6h0M380.2 80.2h0M369.8 79.2h0M367.8 80.5h0M363.5 80.2h0M378.6 80.0h0M371.1 79.8h0M364.4 80.4h0M376.2 78.9h0M375.9 80.0h0M379.0 80.3h0" stroke="#3db54a" stroke-width="1.8" stroke-linecap="round" fill="none"/>
<path d="M382.7 81.3h0M369.5 80.8h0M379.7 80.8h0M366.1 81.6h0M373.7 81.0h0M376.7 81.8h0M364.9 80.8h0M363.5 80.9h0M373.0 81.6h0M376.7 81.0h0M370.9 81.0h0M368.0 81.5h0M379.3 81.5h0M365.3 81.2h0M378.6 80.9h0" stroke="#3db54a" stroke-width="1.8" stroke-linecap="round" fill="none"/>
<line x1="284.20" y1="78.10" x2="387.20" y2="78.10" stroke="#cc1432" stroke-width="1" stroke-dasharray="3,2" stroke-opacity="0.6"/>
<line x1="284.20" y1="83.10" x2="387.20" y2="83.10" stroke="#1d4f91" stroke-width="1" stroke-dasharray="3,2" stroke-opacity="0.6"/>
<line x1="284.20" y1="80.60" x2="387.20" y2="80.60" stroke="#1a1a1a" stroke-width="1.3" />
<ellipse cx="328.3" cy="56.2" rx="38.6" ry="21.2" fill="none" stroke="#c8203a" stroke-width="1"/>
<ellipse cx="331" cy="107" rx="46.5" ry="24.3" fill="none" stroke="#21609e" stroke-width="1"/>
</g>
<rect x="284.2" y="30" width="103.0" height="105" fill="none" stroke="#1a1a1a" stroke-width="1.2"/>
<line x1="281.20" y1="38.60" x2="284.20" y2="38.60" stroke="#333" stroke-width="0.8" />
<text x="278.70" y="40.90" font-size="6.6" fill="#4d4d4d" stroke="#4d4d4d" stroke-width="0.119" text-anchor="end" >10</text>
<line x1="281.20" y1="59.60" x2="284.20" y2="59.60" stroke="#333" stroke-width="0.8" />
<text x="278.70" y="61.90" font-size="6.6" fill="#4d4d4d" stroke="#4d4d4d" stroke-width="0.119" text-anchor="end" >5</text>
<line x1="281.20" y1="80.60" x2="284.20" y2="80.60" stroke="#333" stroke-width="0.8" />
<text x="278.70" y="82.90" font-size="6.6" fill="#4d4d4d" stroke="#4d4d4d" stroke-width="0.119" text-anchor="end" >0</text>
<line x1="281.20" y1="101.60" x2="284.20" y2="101.60" stroke="#333" stroke-width="0.8" />
<text x="278.70" y="103.90" font-size="6.6" fill="#4d4d4d" stroke="#4d4d4d" stroke-width="0.119" text-anchor="end" >&#8211;5</text>
<line x1="281.20" y1="122.60" x2="284.20" y2="122.60" stroke="#333" stroke-width="0.8" />
<text x="278.70" y="124.90" font-size="6.6" fill="#4d4d4d" stroke="#4d4d4d" stroke-width="0.119" text-anchor="end" >&#8211;10</text>
<line x1="309.05" y1="135.00" x2="309.05" y2="137.80" stroke="#333" stroke-width="0.8" />
<text x="309.05" y="146.30" font-size="6.8" fill="#4d4d4d" stroke="#4d4d4d" stroke-width="0.122" text-anchor="middle" >5</text>
<line x1="333.80" y1="135.00" x2="333.80" y2="137.80" stroke="#333" stroke-width="0.8" />
<text x="333.80" y="146.30" font-size="6.8" fill="#4d4d4d" stroke="#4d4d4d" stroke-width="0.122" text-anchor="middle" >10</text>
<line x1="358.55" y1="135.00" x2="358.55" y2="137.80" stroke="#333" stroke-width="0.8" />
<text x="358.55" y="146.30" font-size="6.8" fill="#4d4d4d" stroke="#4d4d4d" stroke-width="0.122" text-anchor="middle" >15</text>
<line x1="383.30" y1="135.00" x2="383.30" y2="137.80" stroke="#333" stroke-width="0.8" />
<text x="383.30" y="146.30" font-size="6.8" fill="#4d4d4d" stroke="#4d4d4d" stroke-width="0.122" text-anchor="middle" >20</text>
<text x="295.00" y="39.20" font-size="7.3" fill="#1a1a1a" stroke="#1a1a1a" stroke-width="0.131" textLength="84.00" lengthAdjust="spacingAndGlyphs" >2691 genes up in <tspan font-style="italic">Tet2</tspan><tspan dy="-3.6" font-size="4.6">&#8211;/&#8211;</tspan></text>
<text x="290.40" y="128.20" font-size="7.3" fill="#1a1a1a" stroke="#1a1a1a" stroke-width="0.131" textLength="91.00" lengthAdjust="spacingAndGlyphs" >2464 genes down in <tspan font-style="italic">Tet2</tspan><tspan dy="-3.6" font-size="4.6">&#8211;/&#8211;</tspan></text>
<text x="289.20" y="23.90" font-size="8.2" fill="#1a1a1a" stroke="#1a1a1a" stroke-width="0.148" textLength="89.50" lengthAdjust="spacingAndGlyphs" ><tspan font-style="italic">Tet2</tspan><tspan dy="-3.6" font-size="4.6">&#8211;/&#8211;</tspan><tspan dy="3.6"> vs. WT LSKs: Air</tspan></text>
<text x="268.8" y="14.9" font-size="10" font-weight="bold" fill="#000" stroke="#000" stroke-width="0.3">B</text>
<clipPath id="c407"><rect x="407.7" y="30" width="103.5" height="105"/></clipPath>
<line x1="431.50" y1="30.00" x2="431.50" y2="135.00" stroke="#ececec" stroke-width="0.6" />
<line x1="455.50" y1="30.00" x2="455.50" y2="135.00" stroke="#ececec" stroke-width="0.6" />
<line x1="479.50" y1="30.00" x2="479.50" y2="135.00" stroke="#ececec" stroke-width="0.6" />
<line x1="503.50" y1="30.00" x2="503.50" y2="135.00" stroke="#ececec" stroke-width="0.6" />
<line x1="407.70" y1="38.60" x2="511.20" y2="38.60" stroke="#ececec" stroke-width="0.6" />
<line x1="407.70" y1="59.60" x2="511.20" y2="59.60" stroke="#ececec" stroke-width="0.6" />
<line x1="407.70" y1="80.60" x2="511.20" y2="80.60" stroke="#ececec" stroke-width="0.6" />
<line x1="407.70" y1="101.60" x2="511.20" y2="101.60" stroke="#ececec" stroke-width="0.6" />
<line x1="407.70" y1="122.60" x2="511.20" y2="122.60" stroke="#ececec" stroke-width="0.6" />
<g clip-path="url(#c407)">
<polygon points="415.7,68.0 455.0,80.6 415.7,94.0" fill="#3db54a"/>
<polygon points="416.0,69.0 423.0,68.0 430.0,69.5 450.0,73.0 470.0,77.5 484.0,80.3 448.0,80.3 436.0,79.2 426.0,76.5 419.0,73.0 416.0,70.5" fill="#cc1432"/>
<polygon points="448.0,80.9 486.0,80.9 470.0,83.5 450.0,86.0 430.0,89.5 416.0,92.0 419.0,89.5 426.0,86.0 436.0,82.5" fill="#1d4f91"/>
<path d="M464.4 69.4h0M454.1 68.8h0M449.3 66.6h0M429.2 65.7h0M452.0 70.6h0M435.1 70.2h0M447.3 67.3h0M435.0 69.7h0M433.2 69.8h0M450.6 62.1h0M457.5 73.3h0M451.8 73.2h0M459.9 74.0h0M418.1 65.7h0M429.5 68.4h0M424.8 66.6h0M445.2 67.2h0M423.2 62.8h0M428.1 68.3h0M448.5 71.5h0M436.9 68.2h0M433.0 65.3h0M432.6 64.5h0M457.9 72.5h0M422.3 63.6h0M422.1 66.0h0M440.2 71.1h0M448.5 68.9h0M446.5 70.9h0M443.5 69.2h0M433.3 64.0h0M478.4 74.4h0M471.2 76.6h0M475.5 78.5h0M442.2 71.2h0M441.3 68.0h0M452.2 71.7h0M437.3 70.1h0M439.4 70.2h0M432.0 65.9h0M443.7 70.2h0M432.2 66.2h0M432.1 68.9h0M445.5 68.6h0M472.9 74.0h0M469.5 69.8h0M453.0 69.9h0M425.1 67.8h0M420.1 62.4h0M452.9 70.7h0M434.7 69.0h0M430.7 66.6h0M476.9 77.9h0M423.6 67.6h0M437.8 64.0h0M457.6 72.9h0M427.6 68.6h0M430.3 65.0h0M441.9 57.6h0M465.6 71.8h0M442.1 66.4h0M429.0 68.9h0M445.6 70.1h0M432.6 69.1h0M421.3 61.1h0M452.3 64.8h0M474.3 76.7h0M453.5 72.3h0M458.1 69.3h0M429.3 69.3h0M432.8 67.4h0M438.6 71.0h0M459.3 70.5h0M441.6 71.4h0M463.6 73.8h0M425.7 67.4h0M448.2 66.2h0M442.4 68.6h0M432.5 69.1h0M465.1 74.9h0M427.7 66.3h0M428.9 68.6h0M441.4 68.8h0M448.8 69.1h0M440.8 71.2h0M453.1 73.5h0M441.9 70.1h0M450.5 69.4h0M433.8 67.0h0M451.4 71.4h0M429.7 62.2h0M447.1 72.3h0M433.7 57.2h0M433.4 68.6h0M456.6 69.3h0M448.7 68.7h0M423.1 67.7h0M473.5 73.4h0M423.1 67.9h0M433.8 62.2h0M433.0 66.7h0M467.5 73.9h0M466.3 75.8h0M430.2 69.5h0M454.8 73.8h0M473.0 74.4h0M431.7 64.9h0M430.7 67.5h0M427.8 64.4h0M463.7 68.6h0M417.7 63.0h0M445.3 67.0h0M443.1 68.9h0M446.9 67.6h0M426.1 68.5h0M444.9 71.1h0M439.2 71.1h0M454.2 73.9h0M459.3 70.1h0M441.4 71.1h0M449.4 72.2h0M440.4 71.0h0M473.5 75.9h0M437.7 70.5h0M453.4 68.1h0M460.5 75.1h0M438.2 69.9h0M455.1 73.7h0M447.4 61.0h0M455.5 74.2h0M425.9 68.3h0M451.4 70.6h0M443.8 70.1h0M439.6 68.3h0M449.3 65.4h0M453.5 69.0h0M465.7 71.1h0M452.7 73.5h0M450.9 67.5h0M440.4 65.0h0M431.4 61.2h0M440.8 67.7h0M434.3 69.2h0M437.5 69.6h0M427.2 67.1h0M474.4 75.3h0M467.7 72.7h0M459.7 59.7h0M454.6 73.1h0M434.2 68.6h0M421.3 67.5h0M463.4 68.4h0M436.9 66.3h0M455.9 67.7h0M457.0 72.3h0M427.8 63.8h0M436.4 67.7h0M438.2 68.6h0M471.8 77.4h0M444.3 68.8h0M444.6 63.7h0M439.6 63.8h0M451.3 63.0h0M426.9 68.1h0M435.5 63.3h0M420.2 67.5h0M452.6 59.9h0M431.3 68.0h0M451.2 69.7h0M454.2 69.8h0M434.1 69.3h0M422.0 64.6h0M432.6 69.1h0M471.6 74.8h0M446.8 69.2h0M447.1 68.9h0M436.0 70.4h0M425.4 68.5h0M438.0 70.4h0M428.2 67.1h0M472.4 74.5h0M435.0 66.0h0M431.3 69.4h0M436.0 69.0h0M451.3 71.5h0M453.3 73.4h0M467.7 75.7h0M459.4 75.0h0M459.2 74.3h0M461.0 70.6h0M450.4 72.1h0M419.6 67.9h0M465.0 75.9h0M449.8 70.3h0M449.9 72.4h0M429.8 69.1h0M474.8 77.1h0M449.5 70.4h0M433.2 69.9h0M420.4 62.6h0M429.1 59.4h0M438.0 67.1h0M429.5 64.7h0M434.2 68.9h0M443.9 71.6h0M434.1 65.4h0M435.4 69.0h0M455.3 73.4h0M432.0 69.1h0M438.8 69.7h0M449.0 70.9h0M462.1 75.6h0M450.0 67.6h0M433.6 70.0h0M440.7 71.0h0M441.5 67.8h0M427.1 68.5h0M442.2 71.1h0M433.5 68.4h0M428.5 69.0h0M438.0 69.0h0M468.1 74.7h0M425.7 67.8h0M454.1 71.4h0M462.1 65.9h0M461.2 75.2h0M468.9 75.0h0M433.8 69.6h0M461.7 74.9h0M426.5 67.8h0M466.8 74.9h0M453.4 73.5h0M441.2 70.3h0M432.5 66.7h0M438.0 70.5h0M475.1 76.6h0M431.4 69.7h0M449.5 70.8h0M421.7 66.3h0M453.9 71.6h0M433.6 68.1h0M447.4 69.4h0M429.8 64.6h0M469.1 73.3h0M461.2 74.1h0M464.8 75.7h0M433.3 67.3h0M464.7 76.1h0M432.9 69.9h0M440.7 70.9h0M431.9 65.7h0M446.4 64.0h0M439.4 67.7h0M420.1 59.5h0M433.5 68.2h0M443.5 63.0h0M442.7 57.3h0M448.1 71.9h0M459.5 74.5h0M480.9 78.0h0M433.3 60.3h0M436.6 69.1h0M437.3 67.5h0M421.5 66.8h0M430.6 64.3h0M416.5 66.1h0M434.4 68.5h0M445.5 68.5h0M429.5 68.6h0M428.6 59.5h0" stroke="#cc1432" stroke-width="1.8" stroke-linecap="round" fill="none"/>
<path d="M428.2 67.8h0M441.1 63.6h0M460.0 74.7h0M431.2 68.1h0M443.6 66.5h0M436.9 51.0h0M446.9 54.8h0M466.9 74.0h0M465.1 71.7h0M423.2 45.9h0M426.2 68.5h0M433.0 67.0h0M468.3 58.7h0M437.3 64.0h0M457.2 59.8h0M446.6 65.9h0M426.8 66.3h0M446.8 64.5h0M454.2 53.3h0M467.6 75.0h0M424.7 47.9h0M443.0 70.0h0M448.4 70.1h0M431.3 65.6h0M441.1 61.3h0M424.5 56.2h0M445.3 66.4h0M447.4 58.1h0M419.1 62.8h0M447.7 61.5h0M446.3 70.6h0M467.1 63.0h0M431.2 64.6h0M467.0 74.7h0M461.1 73.1h0M450.5 69.1h0M447.0 59.4h0M427.2 66.6h0M430.6 66.8h0M421.9 66.8h0M436.8 65.8h0M424.8 60.5h0M465.2 68.7h0M435.1 59.4h0M437.9 69.2h0M439.6 71.0h0M447.6 71.0h0M452.2 57.3h0M446.1 63.2h0M449.0 42.3h0M430.0 56.4h0M433.3 67.4h0M455.4 66.0h0M457.3 55.9h0M443.8 69.9h0M419.9 61.6h0M450.0 70.1h0M424.3 68.2h0M429.1 58.6h0M418.0 66.4h0M432.2 58.7h0M472.0 77.7h0M426.6 44.2h0M468.7 75.8h0M434.5 63.6h0M434.0 65.3h0M439.4 68.5h0M423.4 67.3h0M428.7 68.4h0M445.3 61.4h0M432.2 55.8h0M450.2 69.3h0M439.9 69.4h0M463.8 68.7h0M423.1 66.5h0M448.4 68.3h0M449.6 70.6h0M453.9 59.3h0M425.7 60.6h0M429.8 58.4h0M454.4 59.9h0M431.1 68.8h0M447.0 65.0h0M427.7 67.1h0M443.5 70.8h0M445.7 69.8h0M432.0 64.9h0M441.5 59.9h0M421.5 56.6h0M430.8 66.5h0M445.9 61.7h0M444.9 51.2h0M430.2 66.2h0M447.0 69.8h0M428.5 66.9h0M452.5 57.8h0M449.6 44.2h0M453.8 70.5h0M433.8 58.7h0M423.4 59.6h0" stroke="#cc1432" stroke-width="1.8" stroke-linecap="round" fill="none"/>
<path d="M416.0 61.0h0M417.5 59.8h0M419.0 58.6h0M420.5 57.4h0M422.0 56.2h0M423.5 55.0h0M425.0 53.8h0M426.5 52.6h0M428.0 51.4h0M429.5 50.2h0M416.0 64.0h0M417.5 62.8h0M419.0 61.6h0M420.5 60.4h0M422.0 59.2h0M423.5 58.0h0M425.0 56.8h0M426.5 55.6h0M418.0 66.5h0M419.5 65.3h0M421.0 64.1h0M422.5 62.9h0M424.0 61.7h0M425.5 60.5h0" stroke="#cc1432" stroke-width="1.8" stroke-linecap="round" fill="none"/>
<path d="M426.0 90.4h0M443.1 87.8h0M469.9 91.5h0M440.9 88.4h0M427.6 92.6h0M443.5 88.9h0M453.3 88.5h0M456.9 85.6h0M424.9 92.3h0M441.8 88.5h0M450.6 86.9h0M435.2 91.0h0M453.0 91.2h0M437.3 90.5h0M469.5 93.9h0M448.0 86.8h0M440.6 91.5h0M433.8 89.0h0M477.6 91.7h0M428.0 92.2h0M448.1 87.7h0M424.8 95.7h0M456.6 87.4h0M425.8 92.2h0M426.3 102.7h0M423.6 91.9h0M456.4 85.8h0M426.9 90.3h0M429.6 92.5h0M460.9 85.3h0M429.9 95.0h0M439.4 89.4h0M427.7 91.0h0M475.7 83.3h0M433.1 94.1h0M465.8 92.9h0M441.4 99.4h0M447.3 87.8h0M441.0 92.4h0M454.3 86.0h0M430.7 101.4h0M426.9 96.4h0M436.0 89.5h0M432.9 91.4h0M480.0 82.9h0M462.6 85.9h0M429.9 94.7h0M436.1 89.2h0M439.1 94.5h0M463.2 87.6h0M419.4 96.9h0M447.4 95.2h0M472.5 84.7h0M462.1 91.0h0M433.3 90.6h0M437.4 89.9h0M437.5 88.6h0M431.9 98.3h0M438.8 91.8h0M465.4 89.4h0M432.6 98.6h0M458.8 102.7h0M453.9 90.8h0M459.4 85.9h0M449.9 87.8h0M461.4 85.1h0M444.3 88.6h0M460.0 86.4h0M461.7 91.7h0M464.6 84.7h0M470.7 88.6h0M451.1 89.9h0M423.3 98.4h0M444.7 89.2h0M436.0 94.2h0M457.3 92.8h0M431.5 90.8h0M432.7 89.4h0M435.6 88.6h0M458.3 85.9h0M424.9 90.7h0M454.7 86.3h0M440.9 89.5h0M458.7 96.6h0M434.9 92.4h0M466.1 86.4h0M466.5 89.0h0M435.0 96.5h0M445.8 87.2h0M446.5 93.3h0M443.3 89.7h0M439.0 96.0h0M450.4 86.8h0M436.9 90.0h0M473.5 87.6h0M427.8 99.2h0M422.3 94.3h0M439.7 92.6h0M439.6 88.2h0M443.6 93.7h0M457.7 86.7h0M431.8 94.4h0M458.6 85.9h0M465.0 102.7h0M439.7 89.6h0M452.9 95.7h0M431.0 90.7h0M435.6 93.5h0M430.5 92.4h0M442.5 91.5h0M428.7 101.7h0M485.6 84.7h0M458.2 85.7h0M467.6 86.8h0M455.9 93.0h0M436.9 98.1h0M431.2 89.4h0M442.6 96.0h0M466.6 95.7h0M443.0 97.5h0M445.2 87.4h0M448.7 92.4h0M439.3 91.4h0M433.1 90.2h0M439.2 90.6h0M441.2 87.9h0M418.5 93.1h0M453.3 90.8h0M432.3 90.2h0M443.3 87.9h0M447.3 95.4h0M431.0 92.7h0M453.5 90.8h0M453.0 90.3h0M433.6 95.8h0M469.2 83.8h0M471.5 85.5h0M425.8 90.5h0M458.3 89.3h0M428.6 92.1h0M449.0 109.1h0M435.9 94.0h0M432.6 89.9h0M429.4 91.6h0M448.0 87.7h0M429.5 90.5h0M425.8 91.1h0M435.1 91.3h0M430.3 91.9h0M440.0 101.5h0M441.9 98.4h0M441.3 88.4h0M446.7 87.2h0M429.8 89.8h0M452.4 98.7h0M438.5 89.7h0M439.4 89.5h0M451.8 87.7h0M429.1 97.3h0M445.8 86.8h0M462.1 89.4h0M436.6 92.1h0M468.6 85.6h0M439.7 89.2h0M445.0 91.0h0M454.4 96.8h0M428.8 91.5h0M462.3 90.4h0M446.6 90.9h0M436.1 99.5h0M444.7 88.9h0M430.3 89.9h0M466.3 90.1h0M421.5 92.5h0M441.6 90.1h0M436.9 96.9h0M436.4 91.3h0M469.7 87.4h0M441.5 89.0h0M437.9 91.7h0M457.6 86.2h0M437.2 90.1h0M436.9 97.6h0M444.3 88.2h0M435.8 95.0h0M429.4 94.1h0M420.9 91.9h0M424.2 96.8h0M428.8 90.7h0M424.0 91.7h0M454.3 90.3h0M467.6 95.0h0M444.8 96.6h0M426.0 100.1h0M439.7 88.6h0M455.1 92.8h0M437.8 88.5h0M464.1 89.6h0M447.0 100.8h0M422.5 91.1h0M427.8 90.0h0M452.8 89.4h0M427.2 90.7h0M430.2 93.0h0M450.8 99.2h0M436.8 103.0h0M439.8 89.7h0M432.9 90.0h0M476.2 102.8h0M452.7 86.4h0M430.2 90.1h0M436.5 93.4h0M424.1 93.4h0M451.3 86.0h0M440.0 93.7h0M446.0 89.0h0M464.8 87.6h0M435.9 90.4h0M471.4 90.8h0M468.1 86.9h0M428.6 90.5h0M437.7 92.6h0M418.3 97.7h0M457.6 87.8h0M418.5 97.6h0M438.9 92.1h0M445.7 91.7h0M438.7 100.2h0M473.0 93.2h0M447.9 87.8h0M437.5 89.4h0M466.9 89.9h0M457.7 91.6h0M480.1 86.7h0M435.2 94.0h0M433.2 92.5h0M429.3 97.0h0M442.0 88.6h0M468.9 84.0h0M469.8 88.9h0M428.9 95.1h0M445.8 95.8h0M446.5 88.7h0M470.1 83.8h0M457.0 85.5h0M433.7 89.3h0M463.9 86.5h0M453.8 86.6h0M454.1 89.5h0M426.5 92.7h0M453.6 86.5h0M449.9 87.3h0M437.2 97.8h0M471.3 106.8h0M439.5 91.1h0M459.1 90.3h0M440.7 95.2h0M438.4 99.4h0M441.4 88.0h0M455.2 85.9h0M451.2 86.1h0M479.3 85.3h0M454.7 86.0h0M449.0 88.0h0M432.7 95.4h0M422.1 93.4h0M425.9 97.5h0M465.9 84.1h0M441.0 90.0h0M453.4 90.5h0M436.2 98.7h0M430.4 90.0h0M459.5 85.3h0M430.4 92.1h0M435.9 89.1h0M469.7 86.0h0M457.5 86.2h0M467.8 84.7h0M467.2 87.5h0M475.5 88.4h0M448.6 89.1h0M462.6 86.7h0M426.5 99.4h0M458.9 89.2h0M454.9 86.4h0M441.0 94.2h0M474.0 92.8h0M429.4 94.0h0M444.9 88.9h0M429.7 90.1h0M441.3 90.1h0M433.4 90.6h0M444.9 92.3h0M446.6 87.3h0M465.2 85.8h0M473.7 98.2h0M428.5 93.1h0M474.8 84.7h0M444.6 88.4h0M421.7 91.9h0M427.8 91.2h0M448.6 89.4h0M472.0 87.6h0M436.9 99.6h0M448.8 89.2h0M463.2 88.6h0M436.8 91.8h0M434.6 101.9h0M432.6 102.8h0M424.5 90.5h0M444.9 87.8h0M442.9 87.7h0M461.2 88.8h0M451.5 95.7h0M480.5 86.5h0M453.1 85.6h0M423.4 92.8h0M475.2 84.3h0M445.6 86.8h0M439.0 96.8h0M446.6 93.2h0M419.8 92.2h0M430.2 96.3h0M426.7 100.3h0M433.4 97.0h0M443.2 88.7h0M474.7 84.9h0M452.2 86.0h0M460.7 99.8h0M427.1 95.2h0" stroke="#1d4f91" stroke-width="1.8" stroke-linecap="round" fill="none"/>
<path d="M433.1 90.6h0M436.1 99.3h0M473.8 92.8h0M447.1 88.3h0M450.5 94.0h0M435.9 111.5h0M432.7 90.6h0M429.5 91.2h0M444.3 103.1h0M429.6 96.6h0M443.7 95.3h0M437.7 96.0h0M421.6 91.6h0M438.1 90.8h0M452.1 88.5h0M456.0 88.0h0M426.8 96.6h0M436.9 92.4h0M452.5 88.2h0M447.8 104.4h0M439.1 94.9h0M463.5 93.6h0M430.3 90.2h0M426.3 94.2h0M426.6 100.6h0M438.1 91.8h0M441.3 115.1h0M432.3 90.8h0M434.2 92.7h0M462.2 96.7h0M438.3 89.9h0M424.2 91.8h0M457.5 95.5h0M429.5 99.4h0M425.0 97.5h0M435.2 89.7h0M451.3 98.4h0M441.2 89.4h0M447.8 92.1h0M447.4 87.4h0M461.6 84.6h0M431.7 94.3h0M430.9 90.3h0M435.2 91.7h0M447.9 88.9h0M437.3 99.9h0M438.4 89.7h0M425.7 98.1h0M472.9 108.4h0M427.2 97.0h0M440.4 89.8h0M447.8 93.2h0M455.0 88.8h0M464.5 101.0h0M439.9 89.3h0M440.3 89.1h0M448.5 98.2h0M424.2 103.1h0M454.6 86.6h0M434.7 89.2h0M444.1 99.9h0M435.6 100.4h0M436.2 100.9h0M438.6 88.0h0M426.8 103.0h0M458.7 95.0h0M429.4 110.2h0M450.0 87.2h0M436.7 99.5h0M419.7 91.8h0M435.8 109.3h0M474.8 86.7h0M462.1 99.9h0M458.7 93.8h0M468.8 94.0h0M466.0 92.3h0M430.8 96.7h0M440.2 91.8h0M436.4 95.5h0M444.3 89.5h0M433.3 95.9h0M441.0 93.0h0M447.6 88.5h0M442.1 90.6h0M452.8 97.8h0M453.4 92.9h0M432.5 115.1h0M441.3 92.2h0M433.7 94.0h0M449.6 103.1h0M440.2 100.8h0M431.4 95.3h0M435.9 92.1h0M436.0 102.5h0M450.9 88.2h0M432.0 104.5h0M447.1 97.8h0M446.3 98.5h0M433.2 89.6h0M436.0 88.8h0M467.8 91.2h0M447.8 120.3h0M454.8 88.0h0M435.2 89.7h0M454.3 98.8h0M440.4 92.3h0M433.1 95.6h0M449.8 108.6h0M457.6 105.3h0M438.7 93.5h0" stroke="#1d4f91" stroke-width="1.8" stroke-linecap="round" fill="none"/>
<path d="M488.3 78.8h0M485.7 80.5h0M487.6 79.3h0M499.1 80.4h0M499.0 79.5h0M490.5 80.5h0M497.5 80.4h0M484.4 79.4h0M490.8 80.3h0M493.9 80.5h0M482.4 80.4h0M489.6 80.6h0M489.4 79.9h0M488.7 80.0h0M494.5 80.5h0M482.4 80.0h0M494.2 80.4h0M486.0 79.6h0M500.2 80.5h0M493.7 80.2h0M488.4 80.6h0M488.5 80.1h0M494.0 80.2h0M484.4 80.5h0M488.2 80.3h0" stroke="#3db54a" stroke-width="1.8" stroke-linecap="round" fill="none"/>
<path d="M489.3 81.8h0M484.3 82.7h0M486.8 81.6h0M486.9 81.0h0M489.5 80.6h0M497.9 81.4h0M487.4 81.3h0M491.6 82.8h0M483.1 80.8h0M486.6 81.1h0M497.6 81.5h0M493.0 80.8h0M498.0 80.7h0M487.2 81.3h0M490.8 83.1h0" stroke="#3db54a" stroke-width="1.8" stroke-linecap="round" fill="none"/>
<line x1="407.70" y1="78.10" x2="511.20" y2="78.10" stroke="#cc1432" stroke-width="1" stroke-dasharray="3,2" stroke-opacity="0.6"/>
<line x1="407.70" y1="83.10" x2="511.20" y2="83.10" stroke="#1d4f91" stroke-width="1" stroke-dasharray="3,2" stroke-opacity="0.6"/>
<line x1="407.70" y1="80.60" x2="511.20" y2="80.60" stroke="#1a1a1a" stroke-width="1.3" />
<ellipse cx="447.9" cy="55.8" rx="37" ry="21.8" fill="none" stroke="#c8203a" stroke-width="1"/>
<ellipse cx="457.8" cy="107.2" rx="46.3" ry="24.1" fill="none" stroke="#21609e" stroke-width="1"/>
</g>
<rect x="407.7" y="30" width="103.5" height="105" fill="none" stroke="#1a1a1a" stroke-width="1.2"/>
<line x1="404.70" y1="38.60" x2="407.70" y2="38.60" stroke="#333" stroke-width="0.8" />
<text x="402.20" y="40.90" font-size="6.6" fill="#4d4d4d" stroke="#4d4d4d" stroke-width="0.119" text-anchor="end" >10</text>
<line x1="404.70" y1="59.60" x2="407.70" y2="59.60" stroke="#333" stroke-width="0.8" />
<text x="402.20" y="61.90" font-size="6.6" fill="#4d4d4d" stroke="#4d4d4d" stroke-width="0.119" text-anchor="end" >5</text>
<line x1="404.70" y1="80.60" x2="407.70" y2="80.60" stroke="#333" stroke-width="0.8" />
<text x="402.20" y="82.90" font-size="6.6" fill="#4d4d4d" stroke="#4d4d4d" stroke-width="0.119" text-anchor="end" >0</text>
<line x1="404.70" y1="101.60" x2="407.70" y2="101.60" stroke="#333" stroke-width="0.8" />
<text x="402.20" y="103.90" font-size="6.6" fill="#4d4d4d" stroke="#4d4d4d" stroke-width="0.119" text-anchor="end" >&#8211;5</text>
<line x1="404.70" y1="122.60" x2="407.70" y2="122.60" stroke="#333" stroke-width="0.8" />
<text x="402.20" y="124.90" font-size="6.6" fill="#4d4d4d" stroke="#4d4d4d" stroke-width="0.119" text-anchor="end" >&#8211;10</text>
<line x1="431.50" y1="135.00" x2="431.50" y2="137.80" stroke="#333" stroke-width="0.8" />
<text x="431.50" y="146.30" font-size="6.8" fill="#4d4d4d" stroke="#4d4d4d" stroke-width="0.122" text-anchor="middle" >5</text>
<line x1="455.50" y1="135.00" x2="455.50" y2="137.80" stroke="#333" stroke-width="0.8" />
<text x="455.50" y="146.30" font-size="6.8" fill="#4d4d4d" stroke="#4d4d4d" stroke-width="0.122" text-anchor="middle" >10</text>
<line x1="479.50" y1="135.00" x2="479.50" y2="137.80" stroke="#333" stroke-width="0.8" />
<text x="479.50" y="146.30" font-size="6.8" fill="#4d4d4d" stroke="#4d4d4d" stroke-width="0.122" text-anchor="middle" >15</text>
<line x1="503.50" y1="135.00" x2="503.50" y2="137.80" stroke="#333" stroke-width="0.8" />
<text x="503.50" y="146.30" font-size="6.8" fill="#4d4d4d" stroke="#4d4d4d" stroke-width="0.122" text-anchor="middle" >20</text>
<text x="419.00" y="39.20" font-size="7.3" fill="#1a1a1a" stroke="#1a1a1a" stroke-width="0.131" textLength="81.00" lengthAdjust="spacingAndGlyphs" >1956 genes up in <tspan font-style="italic">Tet2</tspan><tspan dy="-3.6" font-size="4.6">&#8211;/&#8211;</tspan></text>
<text x="414.50" y="128.20" font-size="7.3" fill="#1a1a1a" stroke="#1a1a1a" stroke-width="0.131" textLength="85.50" lengthAdjust="spacingAndGlyphs" >1909 genes down in <tspan font-style="italic">Tet2</tspan><tspan dy="-3.6" font-size="4.6">&#8211;/&#8211;</tspan></text>
<text x="401.50" y="23.90" font-size="8.2" fill="#1a1a1a" stroke="#1a1a1a" stroke-width="0.148" textLength="114.50" lengthAdjust="spacingAndGlyphs" ><tspan font-style="italic">Tet2</tspan><tspan dy="-3.6" font-size="4.6">&#8211;/&#8211;</tspan><tspan dy="3.6"> vs. WT LSKs: physioxia</tspan></text>
<text x="6.9" y="15" font-size="10.4" font-weight="bold" fill="#000" stroke="#000" stroke-width="0.3" textLength="8.2" lengthAdjust="spacingAndGlyphs">A</text>
<line x1="30.50" y1="150.30" x2="503.00" y2="150.30" stroke="#333" stroke-width="1" />
<text x="211.60" y="163.80" font-size="8.3" fill="#222" stroke="#222" stroke-width="0.149" textLength="111.70" lengthAdjust="spacingAndGlyphs" >log<tspan dy="1.8" font-size="5.5">2</tspan><tspan dy="-1.8"> (mean of normalized counts)</tspan></text>
<text x="0" y="0" font-size="8.3" fill="#222" transform="translate(15.6,112.6) rotate(-90)" textLength="60.3" lengthAdjust="spacingAndGlyphs">log<tspan dy="1.8" font-size="5.5">2</tspan><tspan dy="-1.8"> (fold change)</tspan></text>
<text x="7" y="188.7" font-size="11" font-weight="bold" fill="#000" stroke="#000" stroke-width="0.3" textLength="7.4" lengthAdjust="spacingAndGlyphs">C</text>
<line x1="30.60" y1="223.20" x2="30.60" y2="451.00" stroke="#333" stroke-width="1.1" />
<text x="0" y="0" font-size="8.2" fill="#222" stroke="#222" stroke-width="0.12" transform="translate(25.1,366.1) rotate(-90)" textLength="57.6" lengthAdjust="spacingAndGlyphs">Enrichment score</text>
<line x1="41.10" y1="475.80" x2="505.00" y2="475.80" stroke="#333" stroke-width="1" />
<text x="221.50" y="485.50" font-size="9.4" fill="#1a1a1a" stroke="#1a1a1a" stroke-width="0.169" textLength="102.50" lengthAdjust="spacingAndGlyphs" >Rank in ordered dataset</text>
<text x="68.40" y="194.60" font-size="8.2" fill="#1a1a1a" stroke="#1a1a1a" stroke-width="0.148" textLength="48.40" lengthAdjust="spacingAndGlyphs" >WT LSK cells</text>
<line x1="49.60" y1="199.10" x2="136.10" y2="199.10" stroke="#222" stroke-width="1" />
<text x="184.60" y="194.40" font-size="8.2" fill="#1a1a1a" stroke="#1a1a1a" stroke-width="0.148" textLength="61.00" lengthAdjust="spacingAndGlyphs" ><tspan font-style="italic">Tet2</tspan><tspan dy="-3.6" font-size="4.6">&#8211;/&#8211;</tspan><tspan dy="3.6"> LSK cells</tspan></text>
<line x1="169.20" y1="199.10" x2="260.00" y2="199.10" stroke="#222" stroke-width="1" />
<text x="307.20" y="194.40" font-size="8.2" fill="#1a1a1a" stroke="#1a1a1a" stroke-width="0.148" textLength="48.10" lengthAdjust="spacingAndGlyphs" >WT LSK cells</text>
<line x1="288.00" y1="199.10" x2="374.70" y2="199.10" stroke="#222" stroke-width="1" />
<text x="418.70" y="194.40" font-size="8.2" fill="#1a1a1a" stroke="#1a1a1a" stroke-width="0.148" textLength="61.70" lengthAdjust="spacingAndGlyphs" ><tspan font-style="italic">Tet2</tspan><tspan dy="-3.6" font-size="4.6">&#8211;/&#8211;</tspan><tspan dy="3.6"> LSK cells</tspan></text>
<line x1="404.00" y1="199.10" x2="495.00" y2="199.10" stroke="#222" stroke-width="1" />
<text x="108.40" y="215.60" font-size="8.2" fill="#1a1a1a" stroke="#1a1a1a" stroke-width="0.148" textLength="93.00" lengthAdjust="spacingAndGlyphs" >Antioxidant activity (GO)</text>
<text x="306.70" y="215.30" font-size="8.2" fill="#1a1a1a" stroke="#1a1a1a" stroke-width="0.148" textLength="175.00" lengthAdjust="spacingAndGlyphs" >Genes regulated by rapamycin (Bilanges, et al)</text>
<text x="67.40" y="342.20" font-size="8.2" fill="#1a1a1a" stroke="#1a1a1a" stroke-width="0.148" textLength="48.80" lengthAdjust="spacingAndGlyphs" >WT LSK cells</text>
<line x1="47.60" y1="346.80" x2="135.00" y2="346.80" stroke="#222" stroke-width="1" />
<text x="155.50" y="342.20" font-size="8.2" fill="#1a1a1a" stroke="#1a1a1a" stroke-width="0.148" textLength="117.00" lengthAdjust="spacingAndGlyphs" ><tspan font-style="italic">Tet2</tspan><tspan dy="-3.6" font-size="4.6">&#8211;/&#8211;</tspan><tspan dy="3.6"> air vs. WT air (LSK cells)</tspan></text>
<line x1="154.60" y1="346.80" x2="259.00" y2="346.80" stroke="#222" stroke-width="1" />
<text x="305.90" y="342.20" font-size="8.2" fill="#1a1a1a" stroke="#1a1a1a" stroke-width="0.148" textLength="47.80" lengthAdjust="spacingAndGlyphs" >WT LSK cells</text>
<line x1="286.70" y1="346.80" x2="373.50" y2="346.80" stroke="#222" stroke-width="1" />
<text x="392.80" y="342.20" font-size="8.2" fill="#1a1a1a" stroke="#1a1a1a" stroke-width="0.148" textLength="116.50" lengthAdjust="spacingAndGlyphs" ><tspan font-style="italic">Tet2</tspan><tspan dy="-3.6" font-size="4.6">&#8211;/&#8211;</tspan><tspan dy="3.6"> air vs. WT air (LSK cells)</tspan></text>
<line x1="405.90" y1="346.80" x2="497.20" y2="346.80" stroke="#222" stroke-width="1" />
<text x="63.80" y="364.80" font-size="8.2" fill="#1a1a1a" stroke="#1a1a1a" stroke-width="0.148" textLength="186.00" lengthAdjust="spacingAndGlyphs" >Genes downregulated by CBFA2T3 (Chyla, et al.)</text>
<text x="344.00" y="364.20" font-size="8.2" fill="#1a1a1a" stroke="#1a1a1a" stroke-width="0.148" textLength="100.50" lengthAdjust="spacingAndGlyphs" >Mitochondrial matrix (GO)</text>
<line x1="53.50" y1="223.70" x2="53.50" y2="297.80" stroke="#ebebeb" stroke-width="0.7" />
<line x1="70.06" y1="223.70" x2="70.06" y2="297.80" stroke="#ebebeb" stroke-width="0.7" />
<line x1="86.62" y1="223.70" x2="86.62" y2="297.80" stroke="#ebebeb" stroke-width="0.7" />
<line x1="103.18" y1="223.70" x2="103.18" y2="297.80" stroke="#ebebeb" stroke-width="0.7" />
<line x1="119.74" y1="223.70" x2="119.74" y2="297.80" stroke="#ebebeb" stroke-width="0.7" />
<line x1="136.30" y1="223.70" x2="136.30" y2="297.80" stroke="#ebebeb" stroke-width="0.7" />
<line x1="49.40" y1="288.70" x2="144.40" y2="288.70" stroke="#ebebeb" stroke-width="0.7" />
<line x1="49.40" y1="267.00" x2="144.40" y2="267.00" stroke="#ebebeb" stroke-width="0.7" />
<line x1="49.40" y1="245.70" x2="144.40" y2="245.70" stroke="#ebebeb" stroke-width="0.7" />
<clipPath id="g49_223"><rect x="49.4" y="223.7" width="95.0" height="74.10000000000002"/></clipPath>
<g clip-path="url(#g49_223)">
<path d="M54.3 284.7v8M55.5 284.7v8M54.7 284.7v8M54.0 284.7v8M54.3 284.7v8M54.3 284.7v8M55.2 284.7v8M55.4 284.7v8M55.7 284.7v8M59.2 284.7v8M60.3 284.7v8M59.8 284.7v8M61.0 284.7v8M58.9 284.7v8M59.8 284.7v8M63.7 284.7v8M63.3 284.7v8M64.9 284.7v8M62.7 284.7v8M65.0 284.7v8M63.2 284.7v8M63.1 284.7v8M64.1 284.7v8M68.5 284.7v8M67.5 284.7v8M66.8 284.7v8M69.8 284.7v8M67.8 284.7v8M66.9 284.7v8M76.5 284.7v8M75.9 284.7v8M75.0 284.7v8M75.0 284.7v8M84.6 284.7v8M83.5 284.7v8M87.8 284.7v8M88.4 284.7v8M96.7 284.7v8M96.8 284.7v8M96.0 284.7v8M108.1 284.7v8M108.1 284.7v8M107.4 284.7v8M107.2 284.7v8M119.3 284.7v8M121.3 284.7v8M120.1 284.7v8M129.6 284.7v8M128.6 284.7v8M134.4 284.7v8" stroke="#111" stroke-width="0.6" stroke-opacity="0.8" fill="none"/>
<line x1="49.40" y1="288.70" x2="144.40" y2="288.70" stroke="#111" stroke-width="1.1" />
<line x1="49.40" y1="227.50" x2="144.40" y2="227.50" stroke="#e0304a" stroke-width="1" stroke-dasharray="3,2.2"/>
<line x1="49.40" y1="293.30" x2="144.40" y2="293.30" stroke="#e0304a" stroke-width="1" stroke-dasharray="3,2.2"/>
<path d="M53.50 288.70 L54.10 281.60 L55.50 266.50 L57.50 257.40 L59.50 243.20 L62.20 243.20 L63.20 234.20 L66.20 228.10 L70.20 227.70 L73.30 229.10 L81.30 237.20 L93.50 251.30 L107.60 268.50 L120.70 279.60 L133.90 293.70" stroke="#3cb043" stroke-width="1" fill="none"/>
<path d="M53.5 288.7h0M53.6 286.9h0M53.8 285.1h0M54.0 283.4h0M54.1 281.6h0M54.3 279.9h0M54.4 278.2h0M54.6 276.6h0M54.7 274.9h0M54.9 273.2h0M55.0 271.5h0M55.2 269.9h0M55.3 268.2h0M55.5 266.5h0M55.9 264.7h0M56.3 262.9h0M56.7 261.0h0M57.1 259.2h0M57.5 257.4h0M57.8 255.6h0M58.0 253.8h0M58.2 252.1h0M58.5 250.3h0M58.8 248.5h0M59.0 246.8h0M59.2 245.0h0M59.5 243.2h0M62.2 243.2h0M62.4 241.4h0M62.6 239.6h0M62.8 237.8h0M63.0 236.0h0M63.2 234.2h0M64.0 232.7h0M64.7 231.1h0M65.5 229.6h0M66.2 228.1h0M68.2 227.9h0M70.2 227.7h0M73.3 229.1h0M75.0 231.0h0M77.0 233.0h0M81.3 237.2h0M84.0 240.0h0M87.0 244.0h0M93.5 251.3h0M100.0 259.5h0M107.6 268.5h0M108.5 269.0h0M110.0 270.0h0M114.0 274.0h0M120.7 279.6h0M122.0 280.5h0M127.0 286.0h0M133.9 293.7h0" stroke="#3cb043" stroke-width="2.6" stroke-linecap="round" fill="none"/>
</g>
<rect x="49.4" y="223.7" width="95.0" height="74.10000000000002" fill="none" stroke="#111" stroke-width="1.2"/>
<line x1="46.40" y1="288.70" x2="49.40" y2="288.70" stroke="#333" stroke-width="0.8" />
<text x="45.20" y="291.10" font-size="6.8" fill="#4d4d4d" stroke="#4d4d4d" stroke-width="0.122" text-anchor="end" textLength="9.40" lengthAdjust="spacingAndGlyphs" >0.0</text>
<line x1="46.40" y1="267.00" x2="49.40" y2="267.00" stroke="#333" stroke-width="0.8" />
<text x="45.20" y="269.40" font-size="6.8" fill="#4d4d4d" stroke="#4d4d4d" stroke-width="0.122" text-anchor="end" textLength="9.40" lengthAdjust="spacingAndGlyphs" >0.2</text>
<line x1="46.40" y1="245.70" x2="49.40" y2="245.70" stroke="#333" stroke-width="0.8" />
<text x="45.20" y="248.10" font-size="6.8" fill="#4d4d4d" stroke="#4d4d4d" stroke-width="0.122" text-anchor="end" textLength="9.40" lengthAdjust="spacingAndGlyphs" >0.4</text>
<line x1="53.50" y1="297.80" x2="53.50" y2="300.40" stroke="#333" stroke-width="0.8" />
<text x="53.50" y="309.00" font-size="6.8" fill="#4d4d4d" stroke="#4d4d4d" stroke-width="0.122" text-anchor="middle" textLength="3.10" lengthAdjust="spacingAndGlyphs" >0</text>
<line x1="70.06" y1="297.80" x2="70.06" y2="300.40" stroke="#333" stroke-width="0.8" />
<text x="70.06" y="309.00" font-size="6.8" fill="#4d4d4d" stroke="#4d4d4d" stroke-width="0.122" text-anchor="middle" textLength="12.40" lengthAdjust="spacingAndGlyphs" >2500</text>
<line x1="86.62" y1="297.80" x2="86.62" y2="300.40" stroke="#333" stroke-width="0.8" />
<text x="86.62" y="309.00" font-size="6.8" fill="#4d4d4d" stroke="#4d4d4d" stroke-width="0.122" text-anchor="middle" textLength="12.40" lengthAdjust="spacingAndGlyphs" >5000</text>
<line x1="103.18" y1="297.80" x2="103.18" y2="300.40" stroke="#333" stroke-width="0.8" />
<text x="103.18" y="309.00" font-size="6.8" fill="#4d4d4d" stroke="#4d4d4d" stroke-width="0.122" text-anchor="middle" textLength="12.40" lengthAdjust="spacingAndGlyphs" >7500</text>
<line x1="119.74" y1="297.80" x2="119.74" y2="300.40" stroke="#333" stroke-width="0.8" />
<text x="119.74" y="309.00" font-size="6.8" fill="#4d4d4d" stroke="#4d4d4d" stroke-width="0.122" text-anchor="middle" textLength="15.50" lengthAdjust="spacingAndGlyphs" >10000</text>
<line x1="136.30" y1="297.80" x2="136.30" y2="300.40" stroke="#333" stroke-width="0.8" />
<text x="136.30" y="309.00" font-size="6.8" fill="#4d4d4d" stroke="#4d4d4d" stroke-width="0.122" text-anchor="middle" textLength="15.50" lengthAdjust="spacingAndGlyphs" >12500</text>
<text x="109.20" y="238.20" font-size="6.9" fill="#1a1a1a" stroke="#1a1a1a" stroke-width="0.124" textLength="33.07" lengthAdjust="spacingAndGlyphs" >Padj = 0.02</text>
<text x="109.20" y="245.50" font-size="6.9" fill="#1a1a1a" stroke="#1a1a1a" stroke-width="0.124" textLength="28.73" lengthAdjust="spacingAndGlyphs" >ES = 0.57</text>
<text x="109.20" y="252.80" font-size="6.9" fill="#1a1a1a" stroke="#1a1a1a" stroke-width="0.124" textLength="33.42" lengthAdjust="spacingAndGlyphs" >NES = 1.92</text>
<text x="109.20" y="260.10" font-size="6.9" fill="#1a1a1a" stroke="#1a1a1a" stroke-width="0.124" textLength="18.25" lengthAdjust="spacingAndGlyphs" >n = 53</text>
<text x="53.70" y="320.00" font-size="7.4" fill="#1a1a1a" stroke="#1a1a1a" stroke-width="0.133" textLength="30.50" lengthAdjust="spacingAndGlyphs" >Physioxia</text>
<text x="136.50" y="320.00" font-size="7.4" fill="#1a1a1a" stroke="#1a1a1a" stroke-width="0.133" text-anchor="end" textLength="9.60" lengthAdjust="spacingAndGlyphs" >Air</text>
<line x1="171.60" y1="223.80" x2="171.60" y2="297.70" stroke="#ebebeb" stroke-width="0.7" />
<line x1="187.68" y1="223.80" x2="187.68" y2="297.70" stroke="#ebebeb" stroke-width="0.7" />
<line x1="203.76" y1="223.80" x2="203.76" y2="297.70" stroke="#ebebeb" stroke-width="0.7" />
<line x1="219.84" y1="223.80" x2="219.84" y2="297.70" stroke="#ebebeb" stroke-width="0.7" />
<line x1="235.92" y1="223.80" x2="235.92" y2="297.70" stroke="#ebebeb" stroke-width="0.7" />
<line x1="252.00" y1="223.80" x2="252.00" y2="297.70" stroke="#ebebeb" stroke-width="0.7" />
<line x1="167.30" y1="293.50" x2="261.10" y2="293.50" stroke="#ebebeb" stroke-width="0.7" />
<line x1="167.30" y1="276.20" x2="261.10" y2="276.20" stroke="#ebebeb" stroke-width="0.7" />
<line x1="167.30" y1="258.90" x2="261.10" y2="258.90" stroke="#ebebeb" stroke-width="0.7" />
<line x1="167.30" y1="242.00" x2="261.10" y2="242.00" stroke="#ebebeb" stroke-width="0.7" />
<line x1="167.30" y1="224.90" x2="261.10" y2="224.90" stroke="#ebebeb" stroke-width="0.7" />
<clipPath id="g167_223"><rect x="167.3" y="223.8" width="93.80000000000001" height="73.89999999999998"/></clipPath>
<g clip-path="url(#g167_223)">
<path d="M175.9 272.2v8M176.9 272.2v8M180.8 272.2v8M179.3 272.2v8M179.3 272.2v8M178.4 272.2v8M186.3 272.2v8M184.4 272.2v8M184.2 272.2v8M187.5 272.2v8M187.9 272.2v8M184.8 272.2v8M198.6 272.2v8M196.5 272.2v8M198.5 272.2v8M196.7 272.2v8M207.6 272.2v8M205.8 272.2v8M208.0 272.2v8M204.2 272.2v8M207.4 272.2v8M208.5 272.2v8M204.2 272.2v8M205.8 272.2v8M209.1 272.2v8M218.2 272.2v8M218.5 272.2v8M219.1 272.2v8M218.3 272.2v8M233.6 272.2v8M235.1 272.2v8M237.8 272.2v8M236.0 272.2v8M237.3 272.2v8M234.5 272.2v8M248.3 272.2v8M249.9 272.2v8M249.5 272.2v8" stroke="#111" stroke-width="0.6" stroke-opacity="0.8" fill="none"/>
<line x1="167.30" y1="276.20" x2="261.10" y2="276.20" stroke="#111" stroke-width="1.1" />
<line x1="167.30" y1="227.80" x2="261.10" y2="227.80" stroke="#e0304a" stroke-width="1" stroke-dasharray="3,2.2"/>
<line x1="167.30" y1="293.50" x2="261.10" y2="293.50" stroke="#e0304a" stroke-width="1" stroke-dasharray="3,2.2"/>
<path d="M171.60 276.20 L171.80 253.50 L174.00 258.00 L175.50 266.00 L177.00 252.00 L178.50 240.00 L180.00 228.50 L182.00 233.00 L184.00 231.00 L186.00 233.00 L188.00 232.00 L190.00 234.00 L193.00 244.00 L197.00 250.00 L201.00 256.00 L205.00 263.00 L208.00 268.00 L211.00 274.00 L213.00 279.00 L216.00 282.00 L219.00 283.00 L222.00 286.00 L225.00 289.00 L228.00 292.00 L230.00 293.00 L232.00 291.00 L234.00 293.00 L236.00 288.00 L238.00 286.00 L240.00 290.00 L242.00 294.00 L244.00 290.00 L246.00 284.00 L247.50 290.00 L248.00 276.00" stroke="#3cb043" stroke-width="1" fill="none"/>
<path d="M171.6 276.2h0M171.6 274.1h0M171.6 272.1h0M171.7 270.0h0M171.7 267.9h0M171.7 265.9h0M171.7 263.8h0M171.7 261.8h0M171.7 259.7h0M171.8 257.6h0M171.8 255.6h0M171.8 253.5h0M172.9 255.8h0M174.0 258.0h0M174.4 260.0h0M174.8 262.0h0M175.1 264.0h0M175.5 266.0h0M175.7 264.0h0M175.9 262.0h0M176.1 260.0h0M176.4 258.0h0M176.6 256.0h0M176.8 254.0h0M177.0 252.0h0M177.2 250.0h0M177.5 248.0h0M177.8 246.0h0M178.0 244.0h0M178.2 242.0h0M178.5 240.0h0M178.8 237.7h0M179.1 235.4h0M179.4 233.1h0M179.7 230.8h0M180.0 228.5h0M181.0 230.8h0M182.0 233.0h0M184.0 231.0h0M186.0 233.0h0M188.0 232.0h0M190.0 234.0h0M190.6 236.0h0M191.2 238.0h0M191.8 240.0h0M192.4 242.0h0M193.0 244.0h0M194.3 246.0h0M195.7 248.0h0M197.0 250.0h0M198.3 252.0h0M199.7 254.0h0M201.0 256.0h0M202.0 257.8h0M203.0 259.5h0M204.0 261.2h0M205.0 263.0h0M206.5 265.5h0M208.0 268.0h0M209.0 270.0h0M210.0 272.0h0M211.0 274.0h0M212.0 276.5h0M213.0 279.0h0M214.5 280.5h0M216.0 282.0h0M219.0 283.0h0M220.5 284.5h0M222.0 286.0h0M223.5 287.5h0M225.0 289.0h0M226.5 290.5h0M228.0 292.0h0M230.0 293.0h0M232.0 291.0h0M234.0 293.0h0M235.0 290.5h0M236.0 288.0h0M238.0 286.0h0M239.0 288.0h0M240.0 290.0h0M241.0 292.0h0M242.0 294.0h0M243.0 292.0h0M244.0 290.0h0M244.7 288.0h0M245.3 286.0h0M246.0 284.0h0M246.5 286.0h0M247.0 288.0h0M247.5 290.0h0M247.6 288.0h0M247.6 286.0h0M247.7 284.0h0M247.8 282.0h0M247.9 280.0h0M247.9 278.0h0M248.0 276.0h0" stroke="#3cb043" stroke-width="2.6" stroke-linecap="round" fill="none"/>
</g>
<rect x="167.3" y="223.8" width="93.80000000000001" height="73.89999999999998" fill="none" stroke="#111" stroke-width="1.2"/>
<line x1="164.30" y1="293.50" x2="167.30" y2="293.50" stroke="#333" stroke-width="0.8" />
<text x="163.10" y="295.90" font-size="6.8" fill="#4d4d4d" stroke="#4d4d4d" stroke-width="0.122" text-anchor="end" textLength="12.30" lengthAdjust="spacingAndGlyphs" >&#8211;0.1</text>
<line x1="164.30" y1="276.20" x2="167.30" y2="276.20" stroke="#333" stroke-width="0.8" />
<text x="163.10" y="278.60" font-size="6.8" fill="#4d4d4d" stroke="#4d4d4d" stroke-width="0.122" text-anchor="end" textLength="9.40" lengthAdjust="spacingAndGlyphs" >0.0</text>
<line x1="164.30" y1="258.90" x2="167.30" y2="258.90" stroke="#333" stroke-width="0.8" />
<text x="163.10" y="261.30" font-size="6.8" fill="#4d4d4d" stroke="#4d4d4d" stroke-width="0.122" text-anchor="end" textLength="9.40" lengthAdjust="spacingAndGlyphs" >0.1</text>
<line x1="164.30" y1="242.00" x2="167.30" y2="242.00" stroke="#333" stroke-width="0.8" />
<text x="163.10" y="244.40" font-size="6.8" fill="#4d4d4d" stroke="#4d4d4d" stroke-width="0.122" text-anchor="end" textLength="9.40" lengthAdjust="spacingAndGlyphs" >0.2</text>
<line x1="164.30" y1="224.90" x2="167.30" y2="224.90" stroke="#333" stroke-width="0.8" />
<text x="163.10" y="227.30" font-size="6.8" fill="#4d4d4d" stroke="#4d4d4d" stroke-width="0.122" text-anchor="end" textLength="9.40" lengthAdjust="spacingAndGlyphs" >0.3</text>
<line x1="171.60" y1="297.70" x2="171.60" y2="300.30" stroke="#333" stroke-width="0.8" />
<text x="171.60" y="308.90" font-size="6.8" fill="#4d4d4d" stroke="#4d4d4d" stroke-width="0.122" text-anchor="middle" textLength="3.10" lengthAdjust="spacingAndGlyphs" >0</text>
<line x1="187.68" y1="297.70" x2="187.68" y2="300.30" stroke="#333" stroke-width="0.8" />
<text x="187.68" y="308.90" font-size="6.8" fill="#4d4d4d" stroke="#4d4d4d" stroke-width="0.122" text-anchor="middle" textLength="12.40" lengthAdjust="spacingAndGlyphs" >2500</text>
<line x1="203.76" y1="297.70" x2="203.76" y2="300.30" stroke="#333" stroke-width="0.8" />
<text x="203.76" y="308.90" font-size="6.8" fill="#4d4d4d" stroke="#4d4d4d" stroke-width="0.122" text-anchor="middle" textLength="12.40" lengthAdjust="spacingAndGlyphs" >5000</text>
<line x1="219.84" y1="297.70" x2="219.84" y2="300.30" stroke="#333" stroke-width="0.8" />
<text x="219.84" y="308.90" font-size="6.8" fill="#4d4d4d" stroke="#4d4d4d" stroke-width="0.122" text-anchor="middle" textLength="12.40" lengthAdjust="spacingAndGlyphs" >7500</text>
<line x1="235.92" y1="297.70" x2="235.92" y2="300.30" stroke="#333" stroke-width="0.8" />
<text x="235.92" y="308.90" font-size="6.8" fill="#4d4d4d" stroke="#4d4d4d" stroke-width="0.122" text-anchor="middle" textLength="15.50" lengthAdjust="spacingAndGlyphs" >10000</text>
<line x1="252.00" y1="297.70" x2="252.00" y2="300.30" stroke="#333" stroke-width="0.8" />
<text x="252.00" y="308.90" font-size="6.8" fill="#4d4d4d" stroke="#4d4d4d" stroke-width="0.122" text-anchor="middle" textLength="15.50" lengthAdjust="spacingAndGlyphs" >12500</text>
<text x="212.00" y="238.60" font-size="6.9" fill="#1a1a1a" stroke="#1a1a1a" stroke-width="0.124" textLength="33.07" lengthAdjust="spacingAndGlyphs" >Padj = 0.69</text>
<text x="212.00" y="246.00" font-size="6.9" fill="#1a1a1a" stroke="#1a1a1a" stroke-width="0.124" textLength="28.73" lengthAdjust="spacingAndGlyphs" >ES = 0.28</text>
<text x="212.00" y="253.40" font-size="6.9" fill="#1a1a1a" stroke="#1a1a1a" stroke-width="0.124" textLength="32.94" lengthAdjust="spacingAndGlyphs" >NES = 1.11</text>
<text x="212.00" y="260.80" font-size="6.9" fill="#1a1a1a" stroke="#1a1a1a" stroke-width="0.124" textLength="18.25" lengthAdjust="spacingAndGlyphs" >n = 55</text>
<text x="171.60" y="320.20" font-size="7.4" fill="#1a1a1a" stroke="#1a1a1a" stroke-width="0.133" textLength="30.50" lengthAdjust="spacingAndGlyphs" >Physioxia</text>
<text x="253.20" y="320.20" font-size="7.4" fill="#1a1a1a" stroke="#1a1a1a" stroke-width="0.133" text-anchor="end" textLength="9.60" lengthAdjust="spacingAndGlyphs" >Air</text>
<line x1="291.10" y1="223.70" x2="291.10" y2="297.80" stroke="#ebebeb" stroke-width="0.7" />
<line x1="322.40" y1="223.70" x2="322.40" y2="297.80" stroke="#ebebeb" stroke-width="0.7" />
<line x1="353.70" y1="223.70" x2="353.70" y2="297.80" stroke="#ebebeb" stroke-width="0.7" />
<line x1="287.40" y1="292.10" x2="381.60" y2="292.10" stroke="#ebebeb" stroke-width="0.7" />
<line x1="287.40" y1="271.50" x2="381.60" y2="271.50" stroke="#ebebeb" stroke-width="0.7" />
<line x1="287.40" y1="251.30" x2="381.60" y2="251.30" stroke="#ebebeb" stroke-width="0.7" />
<line x1="287.40" y1="230.50" x2="381.60" y2="230.50" stroke="#ebebeb" stroke-width="0.7" />
<clipPath id="g287_223"><rect x="287.4" y="223.7" width="94.20000000000005" height="74.10000000000002"/></clipPath>
<g clip-path="url(#g287_223)">
<path d="M299.8 288.1v8M293.3 288.1v8M299.3 288.1v8M292.4 288.1v8M303.2 288.1v8M303.7 288.1v8M300.7 288.1v8M295.2 288.1v8M302.1 288.1v8M294.1 288.1v8M301.9 288.1v8M298.2 288.1v8M292.2 288.1v8M302.7 288.1v8M297.3 288.1v8M302.0 288.1v8M300.3 288.1v8M298.4 288.1v8M302.3 288.1v8M294.4 288.1v8M302.8 288.1v8M296.1 288.1v8M292.3 288.1v8M296.0 288.1v8M306.6 288.1v8M306.6 288.1v8M311.6 288.1v8M307.1 288.1v8M307.4 288.1v8M308.6 288.1v8M308.5 288.1v8M314.3 288.1v8M325.6 288.1v8M325.3 288.1v8M326.3 288.1v8M321.7 288.1v8M324.7 288.1v8M320.4 288.1v8M325.8 288.1v8M324.8 288.1v8M337.7 288.1v8M336.2 288.1v8M335.8 288.1v8M346.4 288.1v8M345.3 288.1v8M345.4 288.1v8M352.3 288.1v8M350.0 288.1v8M351.8 288.1v8M370.8 288.1v8M371.5 288.1v8" stroke="#111" stroke-width="0.6" stroke-opacity="0.8" fill="none"/>
<line x1="287.40" y1="292.10" x2="381.60" y2="292.10" stroke="#111" stroke-width="1.1" />
<line x1="287.40" y1="227.70" x2="381.60" y2="227.70" stroke="#e0304a" stroke-width="1" stroke-dasharray="3,2.2"/>
<line x1="287.40" y1="294.30" x2="381.60" y2="294.30" stroke="#e0304a" stroke-width="1" stroke-dasharray="3,2.2"/>
<path d="M291.10 292.70 L292.00 282.60 L294.10 282.60 L295.10 274.50 L296.10 248.30 L298.10 236.20 L301.20 230.10 L303.20 227.10 L305.20 230.10 L309.30 231.10 L315.30 234.20 L323.40 240.20 L333.50 250.30 L343.60 263.40 L355.70 275.50 L370.80 292.70" stroke="#3cb043" stroke-width="1" fill="none"/>
<path d="M291.1 292.7h0M291.3 290.7h0M291.5 288.7h0M291.6 286.6h0M291.8 284.6h0M292.0 282.6h0M294.1 282.6h0M294.4 280.6h0M294.6 278.6h0M294.9 276.5h0M295.1 274.5h0M295.2 272.5h0M295.3 270.5h0M295.3 268.5h0M295.4 266.4h0M295.5 264.4h0M295.6 262.4h0M295.6 260.4h0M295.7 258.4h0M295.8 256.4h0M295.9 254.3h0M295.9 252.3h0M296.0 250.3h0M296.1 248.3h0M296.4 246.3h0M296.8 244.3h0M297.1 242.2h0M297.4 240.2h0M297.8 238.2h0M298.1 236.2h0M299.1 234.2h0M300.2 232.1h0M301.2 230.1h0M303.2 227.1h0M305.2 230.1h0M307.2 230.6h0M309.3 231.1h0M311.3 232.1h0M313.3 233.2h0M315.3 234.2h0M316.9 235.4h0M318.5 236.6h0M320.2 237.8h0M321.8 239.0h0M323.4 240.2h0M324.8 241.6h0M326.3 243.1h0M327.7 244.5h0M329.2 246.0h0M330.6 247.4h0M332.1 248.9h0M333.5 250.3h0M334.8 251.9h0M336.0 253.6h0M337.3 255.2h0M338.6 256.9h0M339.8 258.5h0M341.1 260.1h0M342.3 261.8h0M343.6 263.4h0M345.1 264.9h0M346.6 266.4h0M348.1 267.9h0M349.6 269.4h0M351.2 271.0h0M352.7 272.5h0M354.2 274.0h0M355.7 275.5h0M357.1 277.1h0M358.4 278.6h0M359.8 280.2h0M361.2 281.8h0M362.6 283.3h0M363.9 284.9h0M365.3 286.4h0M366.7 288.0h0M368.1 289.6h0M369.4 291.1h0M370.8 292.7h0" stroke="#3cb043" stroke-width="2.6" stroke-linecap="round" fill="none"/>
</g>
<rect x="287.4" y="223.7" width="94.20000000000005" height="74.10000000000002" fill="none" stroke="#111" stroke-width="1.2"/>
<line x1="284.40" y1="292.10" x2="287.40" y2="292.10" stroke="#333" stroke-width="0.8" />
<text x="283.20" y="294.50" font-size="6.8" fill="#4d4d4d" stroke="#4d4d4d" stroke-width="0.122" text-anchor="end" textLength="9.40" lengthAdjust="spacingAndGlyphs" >0.0</text>
<line x1="284.40" y1="271.50" x2="287.40" y2="271.50" stroke="#333" stroke-width="0.8" />
<text x="283.20" y="273.90" font-size="6.8" fill="#4d4d4d" stroke="#4d4d4d" stroke-width="0.122" text-anchor="end" textLength="9.40" lengthAdjust="spacingAndGlyphs" >0.2</text>
<line x1="284.40" y1="251.30" x2="287.40" y2="251.30" stroke="#333" stroke-width="0.8" />
<text x="283.20" y="253.70" font-size="6.8" fill="#4d4d4d" stroke="#4d4d4d" stroke-width="0.122" text-anchor="end" textLength="9.40" lengthAdjust="spacingAndGlyphs" >0.4</text>
<line x1="284.40" y1="230.50" x2="287.40" y2="230.50" stroke="#333" stroke-width="0.8" />
<text x="283.20" y="232.90" font-size="6.8" fill="#4d4d4d" stroke="#4d4d4d" stroke-width="0.122" text-anchor="end" textLength="9.40" lengthAdjust="spacingAndGlyphs" >0.6</text>
<line x1="291.10" y1="297.80" x2="291.10" y2="300.40" stroke="#333" stroke-width="0.8" />
<text x="291.10" y="309.00" font-size="6.8" fill="#4d4d4d" stroke="#4d4d4d" stroke-width="0.122" text-anchor="middle" textLength="3.10" lengthAdjust="spacingAndGlyphs" >0</text>
<line x1="322.40" y1="297.80" x2="322.40" y2="300.40" stroke="#333" stroke-width="0.8" />
<text x="322.40" y="309.00" font-size="6.8" fill="#4d4d4d" stroke="#4d4d4d" stroke-width="0.122" text-anchor="middle" textLength="12.40" lengthAdjust="spacingAndGlyphs" >5000</text>
<line x1="353.70" y1="297.80" x2="353.70" y2="300.40" stroke="#333" stroke-width="0.8" />
<text x="353.70" y="309.00" font-size="6.8" fill="#4d4d4d" stroke="#4d4d4d" stroke-width="0.122" text-anchor="middle" textLength="15.50" lengthAdjust="spacingAndGlyphs" >10000</text>
<text x="331.00" y="237.20" font-size="6.9" fill="#1a1a1a" stroke="#1a1a1a" stroke-width="0.124" textLength="33.07" lengthAdjust="spacingAndGlyphs" >Padj = 0.02</text>
<text x="331.00" y="244.60" font-size="6.9" fill="#1a1a1a" stroke="#1a1a1a" stroke-width="0.124" textLength="28.73" lengthAdjust="spacingAndGlyphs" >ES = 0.62</text>
<text x="331.00" y="252.00" font-size="6.9" fill="#1a1a1a" stroke="#1a1a1a" stroke-width="0.124" textLength="33.42" lengthAdjust="spacingAndGlyphs" >NES = 2.33</text>
<text x="331.00" y="259.40" font-size="6.9" fill="#1a1a1a" stroke="#1a1a1a" stroke-width="0.124" textLength="18.25" lengthAdjust="spacingAndGlyphs" >n = 92</text>
<text x="291.00" y="320.50" font-size="7.4" fill="#1a1a1a" stroke="#1a1a1a" stroke-width="0.133" textLength="30.50" lengthAdjust="spacingAndGlyphs" >Physioxia</text>
<text x="374.70" y="320.50" font-size="7.4" fill="#1a1a1a" stroke="#1a1a1a" stroke-width="0.133" text-anchor="end" textLength="9.60" lengthAdjust="spacingAndGlyphs" >Air</text>
<line x1="410.70" y1="223.70" x2="410.70" y2="297.80" stroke="#ebebeb" stroke-width="0.7" />
<line x1="427.14" y1="223.70" x2="427.14" y2="297.80" stroke="#ebebeb" stroke-width="0.7" />
<line x1="443.58" y1="223.70" x2="443.58" y2="297.80" stroke="#ebebeb" stroke-width="0.7" />
<line x1="460.02" y1="223.70" x2="460.02" y2="297.80" stroke="#ebebeb" stroke-width="0.7" />
<line x1="476.46" y1="223.70" x2="476.46" y2="297.80" stroke="#ebebeb" stroke-width="0.7" />
<line x1="492.90" y1="223.70" x2="492.90" y2="297.80" stroke="#ebebeb" stroke-width="0.7" />
<line x1="406.60" y1="293.70" x2="501.30" y2="293.70" stroke="#ebebeb" stroke-width="0.7" />
<line x1="406.60" y1="275.10" x2="501.30" y2="275.10" stroke="#ebebeb" stroke-width="0.7" />
<line x1="406.60" y1="256.00" x2="501.30" y2="256.00" stroke="#ebebeb" stroke-width="0.7" />
<line x1="406.60" y1="237.20" x2="501.30" y2="237.20" stroke="#ebebeb" stroke-width="0.7" />
<clipPath id="g406_223"><rect x="406.6" y="223.7" width="94.69999999999999" height="74.10000000000002"/></clipPath>
<g clip-path="url(#g406_223)">
<path d="M447.1 252.0v8M427.1 252.0v8M485.6 252.0v8M433.6 252.0v8M469.3 252.0v8M476.0 252.0v8M431.0 252.0v8M465.5 252.0v8M442.4 252.0v8M429.2 252.0v8M428.7 252.0v8M485.5 252.0v8M440.3 252.0v8M451.2 252.0v8M450.5 252.0v8M413.9 252.0v8M470.0 252.0v8M469.4 252.0v8M479.4 252.0v8M439.4 252.0v8M428.1 252.0v8M438.7 252.0v8M468.4 252.0v8M462.6 252.0v8M443.2 252.0v8M452.4 252.0v8M423.8 252.0v8M482.7 252.0v8M448.3 252.0v8M451.0 252.0v8M472.6 252.0v8M427.2 252.0v8M467.6 252.0v8M439.1 252.0v8M474.5 252.0v8M419.2 252.0v8M433.2 252.0v8M460.9 252.0v8M449.1 252.0v8M441.0 252.0v8M456.5 252.0v8M428.7 252.0v8M445.6 252.0v8M412.0 252.0v8M473.5 252.0v8M431.5 252.0v8M475.9 252.0v8M454.5 252.0v8M458.3 252.0v8M460.2 252.0v8M421.6 252.0v8M471.8 252.0v8M434.4 252.0v8M478.4 252.0v8M472.5 252.0v8M464.2 252.0v8M474.8 252.0v8M445.6 252.0v8M463.8 252.0v8M485.4 252.0v8M430.5 252.0v8M430.3 252.0v8M431.1 252.0v8M431.4 252.0v8M430.4 252.0v8M473.4 252.0v8M474.7 252.0v8M473.8 252.0v8M473.3 252.0v8" stroke="#111" stroke-width="0.6" stroke-opacity="0.8" fill="none"/>
<line x1="406.60" y1="256.00" x2="501.30" y2="256.00" stroke="#111" stroke-width="1.1" />
<line x1="406.60" y1="227.50" x2="501.30" y2="227.50" stroke="#e0304a" stroke-width="1" stroke-dasharray="3,2.2"/>
<line x1="406.60" y1="293.30" x2="501.30" y2="293.30" stroke="#e0304a" stroke-width="1" stroke-dasharray="3,2.2"/>
<path d="M411.90 259.20 L411.90 249.70 L412.30 239.30 L413.70 234.10 L414.50 235.80 L415.70 229.80 L416.80 227.20 L418.00 231.50 L419.70 234.10 L421.40 237.60 L423.20 239.30 L424.90 238.40 L426.60 242.80 L428.40 241.00 L430.10 242.80 L431.80 236.70 L433.00 235.00 L434.40 239.30 L437.00 244.50 L439.60 248.00 L442.20 254.90 L444.80 260.90 L449.10 268.70 L453.40 277.40 L456.90 282.60 L460.40 286.90 L463.00 288.60 L466.40 286.90 L469.00 290.40 L471.60 292.10 L473.30 290.40 L475.10 289.50 L476.80 286.00 L478.50 280.80 L481.10 277.40 L482.90 272.20 L484.60 265.30 L486.30 259.20 L487.70 253.10 L488.90 255.70" stroke="#3cb043" stroke-width="1" fill="none"/>
<path d="M411.9 259.2h0M411.9 257.3h0M411.9 255.4h0M411.9 253.5h0M411.9 251.6h0M411.9 249.7h0M412.0 247.6h0M412.1 245.5h0M412.1 243.5h0M412.2 241.4h0M412.3 239.3h0M413.0 236.7h0M413.7 234.1h0M414.5 235.8h0M414.9 233.8h0M415.3 231.8h0M415.7 229.8h0M416.8 227.2h0M417.4 229.3h0M418.0 231.5h0M419.7 234.1h0M420.5 235.8h0M421.4 237.6h0M423.2 239.3h0M424.9 238.4h0M425.8 240.6h0M426.6 242.8h0M428.4 241.0h0M430.1 242.8h0M430.7 240.8h0M431.2 238.7h0M431.8 236.7h0M433.0 235.0h0M433.7 237.2h0M434.4 239.3h0M435.3 241.0h0M436.1 242.8h0M437.0 244.5h0M438.3 246.2h0M439.6 248.0h0M440.5 250.3h0M441.3 252.6h0M442.2 254.9h0M443.1 256.9h0M443.9 258.9h0M444.8 260.9h0M445.9 262.8h0M447.0 264.8h0M448.0 266.8h0M449.1 268.7h0M450.0 270.4h0M450.8 272.2h0M451.7 273.9h0M452.5 275.7h0M453.4 277.4h0M454.6 279.1h0M455.7 280.9h0M456.9 282.6h0M458.6 284.8h0M460.4 286.9h0M463.0 288.6h0M464.7 287.8h0M466.4 286.9h0M467.7 288.6h0M469.0 290.4h0M471.6 292.1h0M473.3 290.4h0M475.1 289.5h0M476.0 287.8h0M476.8 286.0h0M477.6 283.4h0M478.5 280.8h0M479.8 279.1h0M481.1 277.4h0M482.0 274.8h0M482.9 272.2h0M483.5 269.9h0M484.0 267.6h0M484.6 265.3h0M485.2 263.3h0M485.7 261.2h0M486.3 259.2h0M486.8 257.2h0M487.2 255.1h0M487.7 253.1h0M488.9 255.7h0" stroke="#3cb043" stroke-width="2.6" stroke-linecap="round" fill="none"/>
</g>
<rect x="406.6" y="223.7" width="94.69999999999999" height="74.10000000000002" fill="none" stroke="#111" stroke-width="1.2"/>
<line x1="403.60" y1="293.70" x2="406.60" y2="293.70" stroke="#333" stroke-width="0.8" />
<text x="402.40" y="296.10" font-size="6.8" fill="#4d4d4d" stroke="#4d4d4d" stroke-width="0.122" text-anchor="end" textLength="12.30" lengthAdjust="spacingAndGlyphs" >&#8211;0.2</text>
<line x1="403.60" y1="275.10" x2="406.60" y2="275.10" stroke="#333" stroke-width="0.8" />
<text x="402.40" y="277.50" font-size="6.8" fill="#4d4d4d" stroke="#4d4d4d" stroke-width="0.122" text-anchor="end" textLength="12.30" lengthAdjust="spacingAndGlyphs" >&#8211;0.1</text>
<line x1="403.60" y1="256.00" x2="406.60" y2="256.00" stroke="#333" stroke-width="0.8" />
<text x="402.40" y="258.40" font-size="6.8" fill="#4d4d4d" stroke="#4d4d4d" stroke-width="0.122" text-anchor="end" textLength="9.40" lengthAdjust="spacingAndGlyphs" >0.0</text>
<line x1="403.60" y1="237.20" x2="406.60" y2="237.20" stroke="#333" stroke-width="0.8" />
<text x="402.40" y="239.60" font-size="6.8" fill="#4d4d4d" stroke="#4d4d4d" stroke-width="0.122" text-anchor="end" textLength="9.40" lengthAdjust="spacingAndGlyphs" >0.1</text>
<line x1="410.70" y1="297.80" x2="410.70" y2="300.40" stroke="#333" stroke-width="0.8" />
<text x="410.70" y="309.00" font-size="6.8" fill="#4d4d4d" stroke="#4d4d4d" stroke-width="0.122" text-anchor="middle" textLength="3.10" lengthAdjust="spacingAndGlyphs" >0</text>
<line x1="427.14" y1="297.80" x2="427.14" y2="300.40" stroke="#333" stroke-width="0.8" />
<text x="427.14" y="309.00" font-size="6.8" fill="#4d4d4d" stroke="#4d4d4d" stroke-width="0.122" text-anchor="middle" textLength="12.40" lengthAdjust="spacingAndGlyphs" >2500</text>
<line x1="443.58" y1="297.80" x2="443.58" y2="300.40" stroke="#333" stroke-width="0.8" />
<text x="443.58" y="309.00" font-size="6.8" fill="#4d4d4d" stroke="#4d4d4d" stroke-width="0.122" text-anchor="middle" textLength="12.40" lengthAdjust="spacingAndGlyphs" >5000</text>
<line x1="460.02" y1="297.80" x2="460.02" y2="300.40" stroke="#333" stroke-width="0.8" />
<text x="460.02" y="309.00" font-size="6.8" fill="#4d4d4d" stroke="#4d4d4d" stroke-width="0.122" text-anchor="middle" textLength="12.40" lengthAdjust="spacingAndGlyphs" >7500</text>
<line x1="476.46" y1="297.80" x2="476.46" y2="300.40" stroke="#333" stroke-width="0.8" />
<text x="476.46" y="309.00" font-size="6.8" fill="#4d4d4d" stroke="#4d4d4d" stroke-width="0.122" text-anchor="middle" textLength="15.50" lengthAdjust="spacingAndGlyphs" >10000</text>
<line x1="492.90" y1="297.80" x2="492.90" y2="300.40" stroke="#333" stroke-width="0.8" />
<text x="492.90" y="309.00" font-size="6.8" fill="#4d4d4d" stroke="#4d4d4d" stroke-width="0.122" text-anchor="middle" textLength="15.50" lengthAdjust="spacingAndGlyphs" >12500</text>
<text x="413.50" y="266.10" font-size="6.9" fill="#1a1a1a" stroke="#1a1a1a" stroke-width="0.124" textLength="33.07" lengthAdjust="spacingAndGlyphs" >Padj = 0.92</text>
<text x="413.50" y="273.50" font-size="6.9" fill="#1a1a1a" stroke="#1a1a1a" stroke-width="0.124" textLength="32.34" lengthAdjust="spacingAndGlyphs" >ES = &#8211;0.19</text>
<text x="413.50" y="280.90" font-size="6.9" fill="#1a1a1a" stroke="#1a1a1a" stroke-width="0.124" textLength="37.04" lengthAdjust="spacingAndGlyphs" >NES = &#8211;0.82</text>
<text x="413.50" y="288.30" font-size="6.9" fill="#1a1a1a" stroke="#1a1a1a" stroke-width="0.124" textLength="18.25" lengthAdjust="spacingAndGlyphs" >n = 67</text>
<text x="410.60" y="320.20" font-size="7.4" fill="#1a1a1a" stroke="#1a1a1a" stroke-width="0.133" textLength="30.50" lengthAdjust="spacingAndGlyphs" >Physioxia</text>
<text x="497.30" y="320.20" font-size="7.4" fill="#1a1a1a" stroke="#1a1a1a" stroke-width="0.133" text-anchor="end" textLength="9.60" lengthAdjust="spacingAndGlyphs" >Air</text>
<line x1="52.70" y1="371.10" x2="52.70" y2="446.00" stroke="#ebebeb" stroke-width="0.7" />
<line x1="69.26" y1="371.10" x2="69.26" y2="446.00" stroke="#ebebeb" stroke-width="0.7" />
<line x1="85.82" y1="371.10" x2="85.82" y2="446.00" stroke="#ebebeb" stroke-width="0.7" />
<line x1="102.38" y1="371.10" x2="102.38" y2="446.00" stroke="#ebebeb" stroke-width="0.7" />
<line x1="118.94" y1="371.10" x2="118.94" y2="446.00" stroke="#ebebeb" stroke-width="0.7" />
<line x1="135.50" y1="371.10" x2="135.50" y2="446.00" stroke="#ebebeb" stroke-width="0.7" />
<line x1="49.40" y1="435.30" x2="144.40" y2="435.30" stroke="#ebebeb" stroke-width="0.7" />
<line x1="49.40" y1="419.50" x2="144.40" y2="419.50" stroke="#ebebeb" stroke-width="0.7" />
<line x1="49.40" y1="404.80" x2="144.40" y2="404.80" stroke="#ebebeb" stroke-width="0.7" />
<line x1="49.40" y1="389.20" x2="144.40" y2="389.20" stroke="#ebebeb" stroke-width="0.7" />
<clipPath id="g49_371"><rect x="49.4" y="371.1" width="95.0" height="74.89999999999998"/></clipPath>
<g clip-path="url(#g49_371)">
<path d="M67.4 431.3v8M99.1 431.3v8M68.0 431.3v8M90.8 431.3v8M95.9 431.3v8M88.0 431.3v8M93.1 431.3v8M119.9 431.3v8M54.0 431.3v8M127.4 431.3v8M68.7 431.3v8M55.8 431.3v8M114.3 431.3v8M98.5 431.3v8M95.9 431.3v8M70.2 431.3v8M115.4 431.3v8M77.3 431.3v8M111.1 431.3v8M71.0 431.3v8M98.7 431.3v8M104.8 431.3v8M82.5 431.3v8M91.2 431.3v8M57.9 431.3v8M104.4 431.3v8M108.2 431.3v8M65.0 431.3v8M96.9 431.3v8M111.6 431.3v8M60.8 431.3v8M120.1 431.3v8M122.6 431.3v8M56.8 431.3v8M72.6 431.3v8M59.5 431.3v8M73.0 431.3v8M59.6 431.3v8M92.0 431.3v8M72.8 431.3v8M76.8 431.3v8M89.8 431.3v8M82.5 431.3v8M116.0 431.3v8M110.7 431.3v8M61.9 431.3v8M70.6 431.3v8M53.4 431.3v8M79.1 431.3v8M61.4 431.3v8M108.7 431.3v8M115.4 431.3v8M132.7 431.3v8M69.5 431.3v8M55.6 431.3v8M113.5 431.3v8M85.8 431.3v8M127.5 431.3v8M84.2 431.3v8M77.8 431.3v8M58.5 431.3v8M128.8 431.3v8M93.8 431.3v8M88.1 431.3v8M87.8 431.3v8M114.4 431.3v8M119.4 431.3v8M90.9 431.3v8M67.0 431.3v8M85.3 431.3v8M124.3 431.3v8M85.4 431.3v8M105.8 431.3v8M97.6 431.3v8M89.7 431.3v8M98.9 431.3v8M72.4 431.3v8M97.5 431.3v8M122.1 431.3v8M59.1 431.3v8M82.3 431.3v8M123.4 431.3v8M131.3 431.3v8M53.8 431.3v8M103.1 431.3v8M103.5 431.3v8M120.4 431.3v8M90.4 431.3v8M63.2 431.3v8M76.8 431.3v8M109.9 431.3v8M111.2 431.3v8M69.1 431.3v8M104.3 431.3v8M105.4 431.3v8M105.5 431.3v8M54.5 431.3v8M88.2 431.3v8M78.8 431.3v8M100.7 431.3v8M79.7 431.3v8M63.0 431.3v8M106.5 431.3v8M75.7 431.3v8M116.2 431.3v8M77.2 431.3v8M96.5 431.3v8M117.6 431.3v8M62.0 431.3v8M111.4 431.3v8M58.2 431.3v8M127.9 431.3v8M54.7 431.3v8M110.8 431.3v8M82.3 431.3v8M67.1 431.3v8M84.4 431.3v8M93.0 431.3v8M86.0 431.3v8M62.5 431.3v8M94.7 431.3v8M76.8 431.3v8M130.4 431.3v8M83.5 431.3v8M87.7 431.3v8M71.0 431.3v8M130.5 431.3v8M78.5 431.3v8M104.6 431.3v8M119.6 431.3v8M84.3 431.3v8M113.4 431.3v8M75.1 431.3v8M61.5 431.3v8M56.1 431.3v8M88.8 431.3v8M122.9 431.3v8M69.0 431.3v8M88.1 431.3v8M114.0 431.3v8M74.9 431.3v8M65.0 431.3v8M94.4 431.3v8M86.9 431.3v8M128.1 431.3v8M124.8 431.3v8M71.8 431.3v8M97.7 431.3v8M86.1 431.3v8M55.4 431.3v8M88.4 431.3v8M126.2 431.3v8M77.0 431.3v8M99.8 431.3v8M109.7 431.3v8M57.8 431.3v8M126.9 431.3v8M61.5 431.3v8M76.9 431.3v8M110.2 431.3v8M54.3 431.3v8M82.8 431.3v8M62.9 431.3v8M90.7 431.3v8M54.0 431.3v8" stroke="#000" stroke-width="0.7" fill="none"/>
<line x1="49.40" y1="435.30" x2="144.40" y2="435.30" stroke="#111" stroke-width="1.1" />
<line x1="49.40" y1="378.10" x2="144.40" y2="378.10" stroke="#e0304a" stroke-width="1" stroke-dasharray="3,2.2"/>
<line x1="49.40" y1="443.80" x2="144.40" y2="443.80" stroke="#e0304a" stroke-width="1" stroke-dasharray="3,2.2"/>
<path d="M52.70 432.60C52.83 429.42 53.10 418.53 53.50 413.50C53.90 408.47 54.50 405.27 55.10 402.40C55.70 399.53 56.50 398.83 57.10 396.30C57.70 393.77 58.02 389.22 58.70 387.20C59.38 385.18 60.28 385.38 61.20 384.20C62.12 383.02 63.20 381.12 64.20 380.10C65.20 379.08 66.02 378.27 67.20 378.10C68.38 377.93 69.62 377.92 71.30 379.10C72.98 380.28 74.95 382.50 77.30 385.20C79.65 387.90 82.70 391.27 85.40 395.30C88.10 399.33 90.82 404.68 93.50 409.40C96.18 414.12 99.15 419.73 101.50 423.60C103.85 427.47 105.57 430.08 107.60 432.60C109.63 435.12 111.68 437.45 113.70 438.70C115.72 439.95 117.68 439.77 119.70 440.10C121.72 440.43 123.78 440.43 125.80 440.70C127.82 440.97 130.45 442.70 131.80 441.70C133.15 440.70 133.55 435.87 133.90 434.70" stroke="#3cb043" stroke-width="2.2" fill="none" stroke-linejoin="round" stroke-linecap="round"/>
</g>
<rect x="49.4" y="371.1" width="95.0" height="74.89999999999998" fill="none" stroke="#111" stroke-width="1.2"/>
<line x1="46.40" y1="435.30" x2="49.40" y2="435.30" stroke="#333" stroke-width="0.8" />
<text x="45.20" y="437.70" font-size="6.8" fill="#4d4d4d" stroke="#4d4d4d" stroke-width="0.122" text-anchor="end" textLength="9.40" lengthAdjust="spacingAndGlyphs" >0.0</text>
<line x1="46.40" y1="419.50" x2="49.40" y2="419.50" stroke="#333" stroke-width="0.8" />
<text x="45.20" y="421.90" font-size="6.8" fill="#4d4d4d" stroke="#4d4d4d" stroke-width="0.122" text-anchor="end" textLength="9.40" lengthAdjust="spacingAndGlyphs" >0.1</text>
<line x1="46.40" y1="404.80" x2="49.40" y2="404.80" stroke="#333" stroke-width="0.8" />
<text x="45.20" y="407.20" font-size="6.8" fill="#4d4d4d" stroke="#4d4d4d" stroke-width="0.122" text-anchor="end" textLength="9.40" lengthAdjust="spacingAndGlyphs" >0.2</text>
<line x1="46.40" y1="389.20" x2="49.40" y2="389.20" stroke="#333" stroke-width="0.8" />
<text x="45.20" y="391.60" font-size="6.8" fill="#4d4d4d" stroke="#4d4d4d" stroke-width="0.122" text-anchor="end" textLength="9.40" lengthAdjust="spacingAndGlyphs" >0.3</text>
<line x1="52.70" y1="446.00" x2="52.70" y2="448.60" stroke="#333" stroke-width="0.8" />
<text x="52.70" y="457.20" font-size="6.8" fill="#4d4d4d" stroke="#4d4d4d" stroke-width="0.122" text-anchor="middle" textLength="3.10" lengthAdjust="spacingAndGlyphs" >0</text>
<line x1="69.26" y1="446.00" x2="69.26" y2="448.60" stroke="#333" stroke-width="0.8" />
<text x="69.26" y="457.20" font-size="6.8" fill="#4d4d4d" stroke="#4d4d4d" stroke-width="0.122" text-anchor="middle" textLength="12.40" lengthAdjust="spacingAndGlyphs" >2500</text>
<line x1="85.82" y1="446.00" x2="85.82" y2="448.60" stroke="#333" stroke-width="0.8" />
<text x="85.82" y="457.20" font-size="6.8" fill="#4d4d4d" stroke="#4d4d4d" stroke-width="0.122" text-anchor="middle" textLength="12.40" lengthAdjust="spacingAndGlyphs" >5000</text>
<line x1="102.38" y1="446.00" x2="102.38" y2="448.60" stroke="#333" stroke-width="0.8" />
<text x="102.38" y="457.20" font-size="6.8" fill="#4d4d4d" stroke="#4d4d4d" stroke-width="0.122" text-anchor="middle" textLength="12.40" lengthAdjust="spacingAndGlyphs" >7500</text>
<line x1="118.94" y1="446.00" x2="118.94" y2="448.60" stroke="#333" stroke-width="0.8" />
<text x="118.94" y="457.20" font-size="6.8" fill="#4d4d4d" stroke="#4d4d4d" stroke-width="0.122" text-anchor="middle" textLength="15.50" lengthAdjust="spacingAndGlyphs" >10000</text>
<line x1="135.50" y1="446.00" x2="135.50" y2="448.60" stroke="#333" stroke-width="0.8" />
<text x="135.50" y="457.20" font-size="6.8" fill="#4d4d4d" stroke="#4d4d4d" stroke-width="0.122" text-anchor="middle" textLength="15.50" lengthAdjust="spacingAndGlyphs" >12500</text>
<text x="95.50" y="389.80" font-size="6.9" fill="#1a1a1a" stroke="#1a1a1a" stroke-width="0.124" textLength="33.07" lengthAdjust="spacingAndGlyphs" >Padj = 0.04</text>
<text x="95.50" y="397.30" font-size="6.9" fill="#1a1a1a" stroke="#1a1a1a" stroke-width="0.124" textLength="28.73" lengthAdjust="spacingAndGlyphs" >ES = 0.37</text>
<text x="95.50" y="404.80" font-size="6.9" fill="#1a1a1a" stroke="#1a1a1a" stroke-width="0.124" textLength="33.42" lengthAdjust="spacingAndGlyphs" >NES = 1.58</text>
<text x="95.50" y="412.30" font-size="6.9" fill="#1a1a1a" stroke="#1a1a1a" stroke-width="0.124" textLength="21.87" lengthAdjust="spacingAndGlyphs" >n = 285</text>
<text x="52.20" y="467.50" font-size="7.4" fill="#1a1a1a" stroke="#1a1a1a" stroke-width="0.133" textLength="30.50" lengthAdjust="spacingAndGlyphs" >Physioxia</text>
<text x="140.00" y="467.50" font-size="7.4" fill="#1a1a1a" stroke="#1a1a1a" stroke-width="0.133" text-anchor="end" textLength="9.60" lengthAdjust="spacingAndGlyphs" >Air</text>
<line x1="167.40" y1="371.10" x2="167.40" y2="446.00" stroke="#ebebeb" stroke-width="0.7" />
<line x1="197.00" y1="371.10" x2="197.00" y2="446.00" stroke="#ebebeb" stroke-width="0.7" />
<line x1="226.60" y1="371.10" x2="226.60" y2="446.00" stroke="#ebebeb" stroke-width="0.7" />
<line x1="167.00" y1="439.70" x2="262.00" y2="439.70" stroke="#ebebeb" stroke-width="0.7" />
<line x1="167.00" y1="417.90" x2="262.00" y2="417.90" stroke="#ebebeb" stroke-width="0.7" />
<line x1="167.00" y1="396.30" x2="262.00" y2="396.30" stroke="#ebebeb" stroke-width="0.7" />
<clipPath id="g167_371"><rect x="167" y="371.1" width="95" height="74.89999999999998"/></clipPath>
<g clip-path="url(#g167_371)">
<path d="M180.1 435.7v8M185.8 435.7v8M174.5 435.7v8M175.2 435.7v8M183.6 435.7v8M209.4 435.7v8M179.0 435.7v8M233.7 435.7v8M201.3 435.7v8M188.2 435.7v8M187.3 435.7v8M235.2 435.7v8M171.8 435.7v8M227.4 435.7v8M175.8 435.7v8M243.6 435.7v8M200.7 435.7v8M215.8 435.7v8M237.1 435.7v8M176.0 435.7v8M173.1 435.7v8M223.5 435.7v8M215.0 435.7v8M225.7 435.7v8M190.2 435.7v8M207.8 435.7v8M182.9 435.7v8M203.0 435.7v8M190.5 435.7v8M214.9 435.7v8M191.9 435.7v8M190.0 435.7v8M219.4 435.7v8M174.8 435.7v8M232.1 435.7v8M207.7 435.7v8M186.3 435.7v8M177.2 435.7v8M208.7 435.7v8M208.3 435.7v8M225.6 435.7v8M197.9 435.7v8M201.0 435.7v8M239.4 435.7v8M189.9 435.7v8M246.5 435.7v8M239.4 435.7v8M247.2 435.7v8M243.5 435.7v8M188.6 435.7v8M233.1 435.7v8M217.0 435.7v8M184.3 435.7v8M247.8 435.7v8M219.8 435.7v8M232.8 435.7v8M212.6 435.7v8M174.4 435.7v8M237.1 435.7v8M182.0 435.7v8M188.7 435.7v8M217.3 435.7v8M183.5 435.7v8M205.0 435.7v8M225.1 435.7v8M175.7 435.7v8M220.9 435.7v8M176.4 435.7v8M206.1 435.7v8M220.0 435.7v8M223.0 435.7v8M171.5 435.7v8M183.3 435.7v8M244.8 435.7v8M199.3 435.7v8M202.0 435.7v8M198.0 435.7v8M223.7 435.7v8M227.2 435.7v8M220.0 435.7v8M200.2 435.7v8M213.6 435.7v8M209.2 435.7v8M183.0 435.7v8M244.0 435.7v8M245.2 435.7v8M230.2 435.7v8M247.4 435.7v8M205.2 435.7v8M235.1 435.7v8M187.3 435.7v8M227.4 435.7v8M225.2 435.7v8M243.1 435.7v8M234.7 435.7v8M238.3 435.7v8M189.4 435.7v8M231.0 435.7v8M206.0 435.7v8M193.0 435.7v8M197.5 435.7v8M231.9 435.7v8M235.4 435.7v8M235.6 435.7v8M221.6 435.7v8M181.6 435.7v8M180.5 435.7v8M213.4 435.7v8M185.0 435.7v8M194.9 435.7v8M176.2 435.7v8M180.4 435.7v8M225.4 435.7v8M185.9 435.7v8M235.8 435.7v8M194.3 435.7v8M235.9 435.7v8M192.2 435.7v8M189.4 435.7v8M199.6 435.7v8M169.0 435.7v8M202.8 435.7v8M198.4 435.7v8M169.0 435.7v8M236.9 435.7v8M198.0 435.7v8M168.0 435.7v8M244.8 435.7v8M186.3 435.7v8M188.2 435.7v8M169.9 435.7v8M176.0 435.7v8M224.8 435.7v8M214.6 435.7v8M208.3 435.7v8M187.7 435.7v8M190.9 435.7v8M245.6 435.7v8M197.8 435.7v8M247.2 435.7v8M238.9 435.7v8M178.0 435.7v8M235.9 435.7v8M169.7 435.7v8M224.9 435.7v8M232.8 435.7v8M223.6 435.7v8M212.0 435.7v8M233.0 435.7v8M180.4 435.7v8M211.2 435.7v8M189.3 435.7v8M199.9 435.7v8M183.3 435.7v8M224.7 435.7v8M213.8 435.7v8M230.3 435.7v8M218.3 435.7v8M215.9 435.7v8M241.8 435.7v8M233.0 435.7v8M213.3 435.7v8M194.1 435.7v8M242.2 435.7v8M197.7 435.7v8" stroke="#000" stroke-width="0.7" fill="none"/>
<line x1="167.00" y1="439.70" x2="262.00" y2="439.70" stroke="#111" stroke-width="1.1" />
<line x1="167.00" y1="378.10" x2="262.00" y2="378.10" stroke="#e0304a" stroke-width="1" stroke-dasharray="3,2.2"/>
<line x1="167.00" y1="443.80" x2="262.00" y2="443.80" stroke="#e0304a" stroke-width="1" stroke-dasharray="3,2.2"/>
<path d="M167.40 436.70C167.68 432.48 168.48 418.30 169.10 411.40C169.72 404.50 170.27 399.67 171.10 395.30C171.93 390.93 172.93 387.90 174.10 385.20C175.27 382.50 176.92 380.28 178.10 379.10C179.28 377.92 180.02 377.75 181.20 378.10C182.38 378.45 183.18 379.52 185.20 381.20C187.22 382.88 190.27 385.18 193.30 388.20C196.33 391.22 200.03 395.43 203.40 399.30C206.77 403.17 210.13 407.35 213.50 411.40C216.87 415.45 220.23 419.55 223.60 423.60C226.97 427.65 231.18 432.85 233.70 435.70C236.22 438.55 237.18 439.53 238.70 440.70C240.22 441.87 241.45 442.53 242.80 442.70C244.15 442.87 245.80 442.27 246.80 441.70C247.80 441.13 248.47 439.70 248.80 439.30" stroke="#3cb043" stroke-width="2.2" fill="none" stroke-linejoin="round" stroke-linecap="round"/>
</g>
<rect x="167" y="371.1" width="95" height="74.89999999999998" fill="none" stroke="#111" stroke-width="1.2"/>
<line x1="164.00" y1="439.70" x2="167.00" y2="439.70" stroke="#333" stroke-width="0.8" />
<text x="162.80" y="442.10" font-size="6.8" fill="#4d4d4d" stroke="#4d4d4d" stroke-width="0.122" text-anchor="end" textLength="9.40" lengthAdjust="spacingAndGlyphs" >0.0</text>
<line x1="164.00" y1="417.90" x2="167.00" y2="417.90" stroke="#333" stroke-width="0.8" />
<text x="162.80" y="420.30" font-size="6.8" fill="#4d4d4d" stroke="#4d4d4d" stroke-width="0.122" text-anchor="end" textLength="9.40" lengthAdjust="spacingAndGlyphs" >0.2</text>
<line x1="164.00" y1="396.30" x2="167.00" y2="396.30" stroke="#333" stroke-width="0.8" />
<text x="162.80" y="398.70" font-size="6.8" fill="#4d4d4d" stroke="#4d4d4d" stroke-width="0.122" text-anchor="end" textLength="9.40" lengthAdjust="spacingAndGlyphs" >0.4</text>
<line x1="167.40" y1="446.00" x2="167.40" y2="448.60" stroke="#333" stroke-width="0.8" />
<text x="167.40" y="457.20" font-size="6.8" fill="#4d4d4d" stroke="#4d4d4d" stroke-width="0.122" text-anchor="middle" textLength="3.10" lengthAdjust="spacingAndGlyphs" >0</text>
<line x1="197.00" y1="446.00" x2="197.00" y2="448.60" stroke="#333" stroke-width="0.8" />
<text x="197.00" y="457.20" font-size="6.8" fill="#4d4d4d" stroke="#4d4d4d" stroke-width="0.122" text-anchor="middle" textLength="12.40" lengthAdjust="spacingAndGlyphs" >5000</text>
<line x1="226.60" y1="446.00" x2="226.60" y2="448.60" stroke="#333" stroke-width="0.8" />
<text x="226.60" y="457.20" font-size="6.8" fill="#4d4d4d" stroke="#4d4d4d" stroke-width="0.122" text-anchor="middle" textLength="15.50" lengthAdjust="spacingAndGlyphs" >10000</text>
<text x="207.80" y="386.00" font-size="6.9" fill="#1a1a1a" stroke="#1a1a1a" stroke-width="0.124" textLength="36.68" lengthAdjust="spacingAndGlyphs" >Padj = 0.007</text>
<text x="207.80" y="393.50" font-size="6.9" fill="#1a1a1a" stroke="#1a1a1a" stroke-width="0.124" textLength="28.73" lengthAdjust="spacingAndGlyphs" >ES = 0.56</text>
<text x="207.80" y="401.00" font-size="6.9" fill="#1a1a1a" stroke="#1a1a1a" stroke-width="0.124" textLength="33.42" lengthAdjust="spacingAndGlyphs" >NES = 2.72</text>
<text x="207.80" y="408.50" font-size="6.9" fill="#1a1a1a" stroke="#1a1a1a" stroke-width="0.124" textLength="21.87" lengthAdjust="spacingAndGlyphs" >n = 315</text>
<text x="170.70" y="467.20" font-size="7.4" fill="#1a1a1a" stroke="#1a1a1a" stroke-width="0.133" textLength="32.00" lengthAdjust="spacingAndGlyphs" ><tspan font-style="italic">Tet2</tspan><tspan dy="-3.6" font-size="4.6">&#8211;/&#8211;</tspan><tspan dy="3.6"> air</tspan></text>
<text x="262.00" y="467.20" font-size="7.4" fill="#1a1a1a" stroke="#1a1a1a" stroke-width="0.133" text-anchor="end" textLength="23.50" lengthAdjust="spacingAndGlyphs" >WT air</text>
<line x1="290.10" y1="371.10" x2="290.10" y2="446.00" stroke="#ebebeb" stroke-width="0.7" />
<line x1="306.46" y1="371.10" x2="306.46" y2="446.00" stroke="#ebebeb" stroke-width="0.7" />
<line x1="322.82" y1="371.10" x2="322.82" y2="446.00" stroke="#ebebeb" stroke-width="0.7" />
<line x1="339.18" y1="371.10" x2="339.18" y2="446.00" stroke="#ebebeb" stroke-width="0.7" />
<line x1="355.54" y1="371.10" x2="355.54" y2="446.00" stroke="#ebebeb" stroke-width="0.7" />
<line x1="371.90" y1="371.10" x2="371.90" y2="446.00" stroke="#ebebeb" stroke-width="0.7" />
<line x1="287.40" y1="440.10" x2="382.00" y2="440.10" stroke="#ebebeb" stroke-width="0.7" />
<line x1="287.40" y1="422.10" x2="382.00" y2="422.10" stroke="#ebebeb" stroke-width="0.7" />
<line x1="287.40" y1="404.80" x2="382.00" y2="404.80" stroke="#ebebeb" stroke-width="0.7" />
<line x1="287.40" y1="387.20" x2="382.00" y2="387.20" stroke="#ebebeb" stroke-width="0.7" />
<clipPath id="g287_371"><rect x="287.4" y="371.1" width="94.60000000000002" height="74.89999999999998"/></clipPath>
<g clip-path="url(#g287_371)">
<path d="M297.8 436.1v8M316.7 436.1v8M347.1 436.1v8M365.4 436.1v8M342.1 436.1v8M343.5 436.1v8M365.9 436.1v8M352.9 436.1v8M325.8 436.1v8M327.1 436.1v8M351.4 436.1v8M315.4 436.1v8M298.4 436.1v8M340.0 436.1v8M355.4 436.1v8M309.7 436.1v8M345.2 436.1v8M362.2 436.1v8M299.9 436.1v8M300.6 436.1v8M329.7 436.1v8M316.7 436.1v8M366.9 436.1v8M370.7 436.1v8M325.8 436.1v8M354.1 436.1v8M341.0 436.1v8M303.6 436.1v8M368.7 436.1v8M303.7 436.1v8M295.7 436.1v8M326.4 436.1v8M291.0 436.1v8M328.7 436.1v8M323.1 436.1v8M367.3 436.1v8M323.2 436.1v8M358.8 436.1v8M353.1 436.1v8M337.3 436.1v8M308.9 436.1v8M314.3 436.1v8M329.6 436.1v8M321.7 436.1v8M342.1 436.1v8M330.7 436.1v8M315.8 436.1v8M339.0 436.1v8M370.7 436.1v8M306.0 436.1v8M316.9 436.1v8M290.5 436.1v8M297.1 436.1v8M294.0 436.1v8M324.0 436.1v8M357.7 436.1v8M346.4 436.1v8M368.2 436.1v8M357.7 436.1v8M337.2 436.1v8M336.8 436.1v8M290.5 436.1v8M320.8 436.1v8M310.8 436.1v8M340.1 436.1v8M294.8 436.1v8M333.7 436.1v8M320.1 436.1v8M329.6 436.1v8M322.5 436.1v8M297.8 436.1v8M349.1 436.1v8M354.7 436.1v8M338.3 436.1v8M298.9 436.1v8M338.3 436.1v8M360.5 436.1v8M369.9 436.1v8M351.3 436.1v8M293.2 436.1v8M361.1 436.1v8M343.7 436.1v8M312.0 436.1v8M364.5 436.1v8M356.8 436.1v8M362.5 436.1v8M309.7 436.1v8M336.5 436.1v8M320.4 436.1v8M313.6 436.1v8M351.5 436.1v8M339.7 436.1v8M316.5 436.1v8M333.8 436.1v8M365.2 436.1v8M335.7 436.1v8M364.0 436.1v8M335.6 436.1v8M370.4 436.1v8M291.9 436.1v8M327.0 436.1v8M334.5 436.1v8M348.7 436.1v8M368.5 436.1v8M340.3 436.1v8M328.5 436.1v8M341.2 436.1v8M333.0 436.1v8M347.0 436.1v8M366.7 436.1v8M290.6 436.1v8M315.6 436.1v8M360.9 436.1v8M294.4 436.1v8M353.9 436.1v8M292.0 436.1v8M342.3 436.1v8M354.7 436.1v8M308.9 436.1v8M320.6 436.1v8M308.0 436.1v8M346.9 436.1v8M332.6 436.1v8M338.9 436.1v8M316.0 436.1v8M337.3 436.1v8M367.3 436.1v8M353.0 436.1v8M367.1 436.1v8M309.6 436.1v8M331.6 436.1v8M320.9 436.1v8M317.7 436.1v8M355.0 436.1v8M303.8 436.1v8M335.0 436.1v8M352.6 436.1v8M365.7 436.1v8M291.0 436.1v8M311.6 436.1v8M329.7 436.1v8M365.8 436.1v8M302.8 436.1v8M358.0 436.1v8M321.9 436.1v8M334.1 436.1v8M365.1 436.1v8M294.7 436.1v8M316.4 436.1v8M302.2 436.1v8M300.4 436.1v8M314.2 436.1v8M346.6 436.1v8M336.8 436.1v8M299.4 436.1v8M354.8 436.1v8M330.8 436.1v8M301.2 436.1v8M356.4 436.1v8M356.4 436.1v8M307.2 436.1v8M366.1 436.1v8M355.5 436.1v8M308.2 436.1v8M289.6 436.1v8M360.2 436.1v8M356.8 436.1v8M297.5 436.1v8M352.0 436.1v8M352.5 436.1v8M341.1 436.1v8M357.3 436.1v8M369.8 436.1v8M316.2 436.1v8M357.5 436.1v8" stroke="#000" stroke-width="0.7" fill="none"/>
<line x1="287.40" y1="440.10" x2="382.00" y2="440.10" stroke="#111" stroke-width="1.1" />
<line x1="287.40" y1="378.10" x2="382.00" y2="378.10" stroke="#e0304a" stroke-width="1" stroke-dasharray="3,2.2"/>
<line x1="287.40" y1="443.40" x2="382.00" y2="443.40" stroke="#e0304a" stroke-width="1" stroke-dasharray="3,2.2"/>
<path d="M289.50 435.70C289.70 433.33 290.27 426.22 290.70 421.50C291.13 416.78 291.53 410.08 292.10 407.40C292.67 404.72 293.43 407.42 294.10 405.40C294.77 403.38 295.25 398.50 296.10 395.30C296.95 392.10 298.02 388.22 299.20 386.20C300.38 384.18 302.03 384.38 303.20 383.20C304.37 382.02 304.85 379.95 306.20 379.10C307.55 378.25 309.45 377.75 311.30 378.10C313.15 378.45 315.28 379.52 317.30 381.20C319.32 382.88 321.38 384.85 323.40 388.20C325.42 391.55 327.38 396.75 329.40 401.30C331.42 405.85 333.13 411.45 335.50 415.50C337.87 419.55 341.08 422.40 343.60 425.60C346.12 428.80 348.25 433.18 350.60 434.70C352.95 436.22 355.83 434.20 357.70 434.70C359.57 435.20 360.62 436.53 361.80 437.70C362.98 438.87 363.47 441.37 364.80 441.70C366.13 442.03 368.97 440.03 369.80 439.70" stroke="#3cb043" stroke-width="2.2" fill="none" stroke-linejoin="round" stroke-linecap="round"/>
</g>
<rect x="287.4" y="371.1" width="94.60000000000002" height="74.89999999999998" fill="none" stroke="#111" stroke-width="1.2"/>
<line x1="284.40" y1="440.10" x2="287.40" y2="440.10" stroke="#333" stroke-width="0.8" />
<text x="283.20" y="442.50" font-size="6.8" fill="#4d4d4d" stroke="#4d4d4d" stroke-width="0.122" text-anchor="end" textLength="9.40" lengthAdjust="spacingAndGlyphs" >0.0</text>
<line x1="284.40" y1="422.10" x2="287.40" y2="422.10" stroke="#333" stroke-width="0.8" />
<text x="283.20" y="424.50" font-size="6.8" fill="#4d4d4d" stroke="#4d4d4d" stroke-width="0.122" text-anchor="end" textLength="9.40" lengthAdjust="spacingAndGlyphs" >0.1</text>
<line x1="284.40" y1="404.80" x2="287.40" y2="404.80" stroke="#333" stroke-width="0.8" />
<text x="283.20" y="407.20" font-size="6.8" fill="#4d4d4d" stroke="#4d4d4d" stroke-width="0.122" text-anchor="end" textLength="9.40" lengthAdjust="spacingAndGlyphs" >0.2</text>
<line x1="284.40" y1="387.20" x2="287.40" y2="387.20" stroke="#333" stroke-width="0.8" />
<text x="283.20" y="389.60" font-size="6.8" fill="#4d4d4d" stroke="#4d4d4d" stroke-width="0.122" text-anchor="end" textLength="9.40" lengthAdjust="spacingAndGlyphs" >0.3</text>
<line x1="290.10" y1="446.00" x2="290.10" y2="448.60" stroke="#333" stroke-width="0.8" />
<text x="290.10" y="457.20" font-size="6.8" fill="#4d4d4d" stroke="#4d4d4d" stroke-width="0.122" text-anchor="middle" textLength="3.10" lengthAdjust="spacingAndGlyphs" >0</text>
<line x1="306.46" y1="446.00" x2="306.46" y2="448.60" stroke="#333" stroke-width="0.8" />
<text x="306.46" y="457.20" font-size="6.8" fill="#4d4d4d" stroke="#4d4d4d" stroke-width="0.122" text-anchor="middle" textLength="12.40" lengthAdjust="spacingAndGlyphs" >2500</text>
<line x1="322.82" y1="446.00" x2="322.82" y2="448.60" stroke="#333" stroke-width="0.8" />
<text x="322.82" y="457.20" font-size="6.8" fill="#4d4d4d" stroke="#4d4d4d" stroke-width="0.122" text-anchor="middle" textLength="12.40" lengthAdjust="spacingAndGlyphs" >5000</text>
<line x1="339.18" y1="446.00" x2="339.18" y2="448.60" stroke="#333" stroke-width="0.8" />
<text x="339.18" y="457.20" font-size="6.8" fill="#4d4d4d" stroke="#4d4d4d" stroke-width="0.122" text-anchor="middle" textLength="12.40" lengthAdjust="spacingAndGlyphs" >7500</text>
<line x1="355.54" y1="446.00" x2="355.54" y2="448.60" stroke="#333" stroke-width="0.8" />
<text x="355.54" y="457.20" font-size="6.8" fill="#4d4d4d" stroke="#4d4d4d" stroke-width="0.122" text-anchor="middle" textLength="15.50" lengthAdjust="spacingAndGlyphs" >10000</text>
<line x1="371.90" y1="446.00" x2="371.90" y2="448.60" stroke="#333" stroke-width="0.8" />
<text x="371.90" y="457.20" font-size="6.8" fill="#4d4d4d" stroke="#4d4d4d" stroke-width="0.122" text-anchor="middle" textLength="15.50" lengthAdjust="spacingAndGlyphs" >12500</text>
<text x="337.10" y="387.00" font-size="6.9" fill="#1a1a1a" stroke="#1a1a1a" stroke-width="0.124" textLength="33.07" lengthAdjust="spacingAndGlyphs" >Padj = 0.03</text>
<text x="337.10" y="394.60" font-size="6.9" fill="#1a1a1a" stroke="#1a1a1a" stroke-width="0.124" textLength="28.73" lengthAdjust="spacingAndGlyphs" >ES = 0.35</text>
<text x="337.10" y="402.20" font-size="6.9" fill="#1a1a1a" stroke="#1a1a1a" stroke-width="0.124" textLength="33.42" lengthAdjust="spacingAndGlyphs" >NES = 1.53</text>
<text x="337.10" y="409.80" font-size="6.9" fill="#1a1a1a" stroke="#1a1a1a" stroke-width="0.124" textLength="21.87" lengthAdjust="spacingAndGlyphs" >n = 423</text>
<text x="289.80" y="467.50" font-size="7.4" fill="#1a1a1a" stroke="#1a1a1a" stroke-width="0.133" textLength="30.50" lengthAdjust="spacingAndGlyphs" >Physioxia</text>
<text x="379.80" y="467.50" font-size="7.4" fill="#1a1a1a" stroke="#1a1a1a" stroke-width="0.133" text-anchor="end" textLength="9.60" lengthAdjust="spacingAndGlyphs" >Air</text>
<line x1="406.40" y1="371.10" x2="406.40" y2="446.00" stroke="#ebebeb" stroke-width="0.7" />
<line x1="435.80" y1="371.10" x2="435.80" y2="446.00" stroke="#ebebeb" stroke-width="0.7" />
<line x1="465.20" y1="371.10" x2="465.20" y2="446.00" stroke="#ebebeb" stroke-width="0.7" />
<line x1="406.40" y1="435.30" x2="501.40" y2="435.30" stroke="#ebebeb" stroke-width="0.7" />
<line x1="406.40" y1="415.50" x2="501.40" y2="415.50" stroke="#ebebeb" stroke-width="0.7" />
<line x1="406.40" y1="395.90" x2="501.40" y2="395.90" stroke="#ebebeb" stroke-width="0.7" />
<line x1="406.40" y1="376.50" x2="501.40" y2="376.50" stroke="#ebebeb" stroke-width="0.7" />
<clipPath id="g406_371"><rect x="406.4" y="371.1" width="95.0" height="74.89999999999998"/></clipPath>
<g clip-path="url(#g406_371)">
<path d="M479.8 431.3v8M431.8 431.3v8M461.0 431.3v8M461.1 431.3v8M474.1 431.3v8M451.8 431.3v8M428.8 431.3v8M426.9 431.3v8M449.9 431.3v8M417.7 431.3v8M474.9 431.3v8M477.2 431.3v8M426.1 431.3v8M462.1 431.3v8M460.2 431.3v8M416.6 431.3v8M468.5 431.3v8M467.5 431.3v8M431.2 431.3v8M414.8 431.3v8M429.3 431.3v8M468.0 431.3v8M443.9 431.3v8M471.4 431.3v8M419.6 431.3v8M415.4 431.3v8M434.6 431.3v8M476.5 431.3v8M419.8 431.3v8M412.8 431.3v8M466.5 431.3v8M414.2 431.3v8M459.8 431.3v8M413.6 431.3v8M426.5 431.3v8M459.4 431.3v8M476.0 431.3v8M439.3 431.3v8M442.5 431.3v8M409.5 431.3v8M433.9 431.3v8M426.1 431.3v8M469.3 431.3v8M463.4 431.3v8M469.0 431.3v8M449.0 431.3v8M462.3 431.3v8M417.1 431.3v8M437.4 431.3v8M430.1 431.3v8M429.3 431.3v8M465.4 431.3v8M423.9 431.3v8M432.7 431.3v8M429.3 431.3v8M475.3 431.3v8M457.4 431.3v8M445.0 431.3v8M437.0 431.3v8M479.8 431.3v8M481.2 431.3v8M442.5 431.3v8M451.8 431.3v8M475.1 431.3v8M427.3 431.3v8M427.4 431.3v8M415.1 431.3v8M446.7 431.3v8M467.7 431.3v8M419.4 431.3v8M441.2 431.3v8M485.3 431.3v8M445.0 431.3v8M437.2 431.3v8M473.3 431.3v8M477.5 431.3v8M436.7 431.3v8M416.8 431.3v8M457.3 431.3v8M465.5 431.3v8M479.9 431.3v8M459.1 431.3v8M431.3 431.3v8M447.7 431.3v8M429.7 431.3v8M442.2 431.3v8M444.0 431.3v8M479.1 431.3v8M478.6 431.3v8M480.2 431.3v8M444.8 431.3v8M483.2 431.3v8M418.0 431.3v8M479.8 431.3v8M457.6 431.3v8M475.9 431.3v8M439.7 431.3v8M485.3 431.3v8M409.0 431.3v8M474.0 431.3v8M471.7 431.3v8M436.6 431.3v8M472.5 431.3v8M423.9 431.3v8M466.4 431.3v8M444.0 431.3v8M439.5 431.3v8M422.5 431.3v8M470.2 431.3v8M464.7 431.3v8M414.0 431.3v8M484.3 431.3v8M424.5 431.3v8M436.6 431.3v8M439.8 431.3v8M452.5 431.3v8M477.3 431.3v8M481.7 431.3v8M457.0 431.3v8M435.9 431.3v8M415.5 431.3v8M412.4 431.3v8M448.0 431.3v8M453.1 431.3v8M442.3 431.3v8M484.6 431.3v8M439.7 431.3v8M434.7 431.3v8M440.0 431.3v8M420.6 431.3v8M481.2 431.3v8M453.7 431.3v8M449.9 431.3v8M440.6 431.3v8M426.8 431.3v8M431.9 431.3v8M446.0 431.3v8M442.3 431.3v8M484.4 431.3v8M451.5 431.3v8M423.4 431.3v8M411.2 431.3v8M419.6 431.3v8M434.3 431.3v8M468.8 431.3v8M477.2 431.3v8M425.7 431.3v8M468.6 431.3v8M441.9 431.3v8M449.5 431.3v8M449.1 431.3v8M410.4 431.3v8M412.2 431.3v8M459.7 431.3v8M461.4 431.3v8M437.0 431.3v8M479.6 431.3v8M471.8 431.3v8M430.9 431.3v8M412.3 431.3v8M450.7 431.3v8M458.7 431.3v8M424.7 431.3v8M410.5 431.3v8M445.5 431.3v8M409.7 431.3v8M465.2 431.3v8M456.4 431.3v8M429.1 431.3v8M442.2 431.3v8" stroke="#000" stroke-width="0.7" fill="none"/>
<line x1="406.40" y1="435.30" x2="501.40" y2="435.30" stroke="#111" stroke-width="1.1" />
<line x1="406.40" y1="378.10" x2="501.40" y2="378.10" stroke="#e0304a" stroke-width="1" stroke-dasharray="3,2.2"/>
<line x1="406.40" y1="443.80" x2="501.40" y2="443.80" stroke="#e0304a" stroke-width="1" stroke-dasharray="3,2.2"/>
<path d="M407.00 432.60C407.35 429.75 408.25 420.88 409.10 415.50C409.95 410.12 411.10 403.67 412.10 400.30C413.10 396.93 414.27 397.48 415.10 395.30C415.93 393.12 416.25 388.88 417.10 387.20C417.95 385.52 419.35 385.37 420.20 385.20C421.05 385.03 421.53 386.87 422.20 386.20C422.87 385.53 423.18 382.32 424.20 381.20C425.22 380.08 427.12 380.02 428.30 379.50C429.48 378.98 430.13 377.82 431.30 378.10C432.47 378.38 433.78 379.68 435.30 381.20C436.82 382.72 438.55 384.02 440.40 387.20C442.25 390.38 444.22 395.58 446.40 400.30C448.58 405.02 451.13 410.78 453.50 415.50C455.87 420.22 458.42 425.40 460.60 428.60C462.78 431.80 464.75 432.68 466.60 434.70C468.45 436.72 470.02 439.37 471.70 440.70C473.38 442.03 475.02 442.70 476.70 442.70C478.38 442.70 480.12 441.87 481.80 440.70C483.48 439.53 485.97 436.53 486.80 435.70" stroke="#3cb043" stroke-width="2.2" fill="none" stroke-linejoin="round" stroke-linecap="round"/>
</g>
<rect x="406.4" y="371.1" width="95.0" height="74.89999999999998" fill="none" stroke="#111" stroke-width="1.2"/>
<line x1="403.40" y1="435.30" x2="406.40" y2="435.30" stroke="#333" stroke-width="0.8" />
<text x="402.20" y="437.70" font-size="6.8" fill="#4d4d4d" stroke="#4d4d4d" stroke-width="0.122" text-anchor="end" textLength="9.40" lengthAdjust="spacingAndGlyphs" >0.0</text>
<line x1="403.40" y1="415.50" x2="406.40" y2="415.50" stroke="#333" stroke-width="0.8" />
<text x="402.20" y="417.90" font-size="6.8" fill="#4d4d4d" stroke="#4d4d4d" stroke-width="0.122" text-anchor="end" textLength="9.40" lengthAdjust="spacingAndGlyphs" >0.1</text>
<line x1="403.40" y1="395.90" x2="406.40" y2="395.90" stroke="#333" stroke-width="0.8" />
<text x="402.20" y="398.30" font-size="6.8" fill="#4d4d4d" stroke="#4d4d4d" stroke-width="0.122" text-anchor="end" textLength="9.40" lengthAdjust="spacingAndGlyphs" >0.2</text>
<line x1="403.40" y1="376.50" x2="406.40" y2="376.50" stroke="#333" stroke-width="0.8" />
<text x="402.20" y="378.90" font-size="6.8" fill="#4d4d4d" stroke="#4d4d4d" stroke-width="0.122" text-anchor="end" textLength="9.40" lengthAdjust="spacingAndGlyphs" >0.3</text>
<line x1="406.40" y1="446.00" x2="406.40" y2="448.60" stroke="#333" stroke-width="0.8" />
<text x="406.40" y="457.20" font-size="6.8" fill="#4d4d4d" stroke="#4d4d4d" stroke-width="0.122" text-anchor="middle" textLength="3.10" lengthAdjust="spacingAndGlyphs" >0</text>
<line x1="435.80" y1="446.00" x2="435.80" y2="448.60" stroke="#333" stroke-width="0.8" />
<text x="435.80" y="457.20" font-size="6.8" fill="#4d4d4d" stroke="#4d4d4d" stroke-width="0.122" text-anchor="middle" textLength="12.40" lengthAdjust="spacingAndGlyphs" >5000</text>
<line x1="465.20" y1="446.00" x2="465.20" y2="448.60" stroke="#333" stroke-width="0.8" />
<text x="465.20" y="457.20" font-size="6.8" fill="#4d4d4d" stroke="#4d4d4d" stroke-width="0.122" text-anchor="middle" textLength="15.50" lengthAdjust="spacingAndGlyphs" >10000</text>
<text x="454.90" y="389.00" font-size="6.9" fill="#1a1a1a" stroke="#1a1a1a" stroke-width="0.124" textLength="33.07" lengthAdjust="spacingAndGlyphs" >Padj = 0.01</text>
<text x="454.90" y="396.60" font-size="6.9" fill="#1a1a1a" stroke="#1a1a1a" stroke-width="0.124" textLength="28.73" lengthAdjust="spacingAndGlyphs" >ES = 0.29</text>
<text x="454.90" y="404.20" font-size="6.9" fill="#1a1a1a" stroke="#1a1a1a" stroke-width="0.124" textLength="33.42" lengthAdjust="spacingAndGlyphs" >NES = 1.45</text>
<text x="454.90" y="411.80" font-size="6.9" fill="#1a1a1a" stroke="#1a1a1a" stroke-width="0.124" textLength="21.87" lengthAdjust="spacingAndGlyphs" >n = 430</text>
<text x="408.80" y="467.50" font-size="7.4" fill="#1a1a1a" stroke="#1a1a1a" stroke-width="0.133" textLength="32.00" lengthAdjust="spacingAndGlyphs" ><tspan font-style="italic">Tet2</tspan><tspan dy="-3.6" font-size="4.6">&#8211;/&#8211;</tspan><tspan dy="3.6"> air</tspan></text>
<text x="498.80" y="467.50" font-size="7.4" fill="#1a1a1a" stroke="#1a1a1a" stroke-width="0.133" text-anchor="end" textLength="23.50" lengthAdjust="spacingAndGlyphs" >WT air</text>
<rect x="0.5" y="0.5" width="519" height="492" fill="none" stroke="#000" stroke-width="1.3"/>
</svg></body></html>
